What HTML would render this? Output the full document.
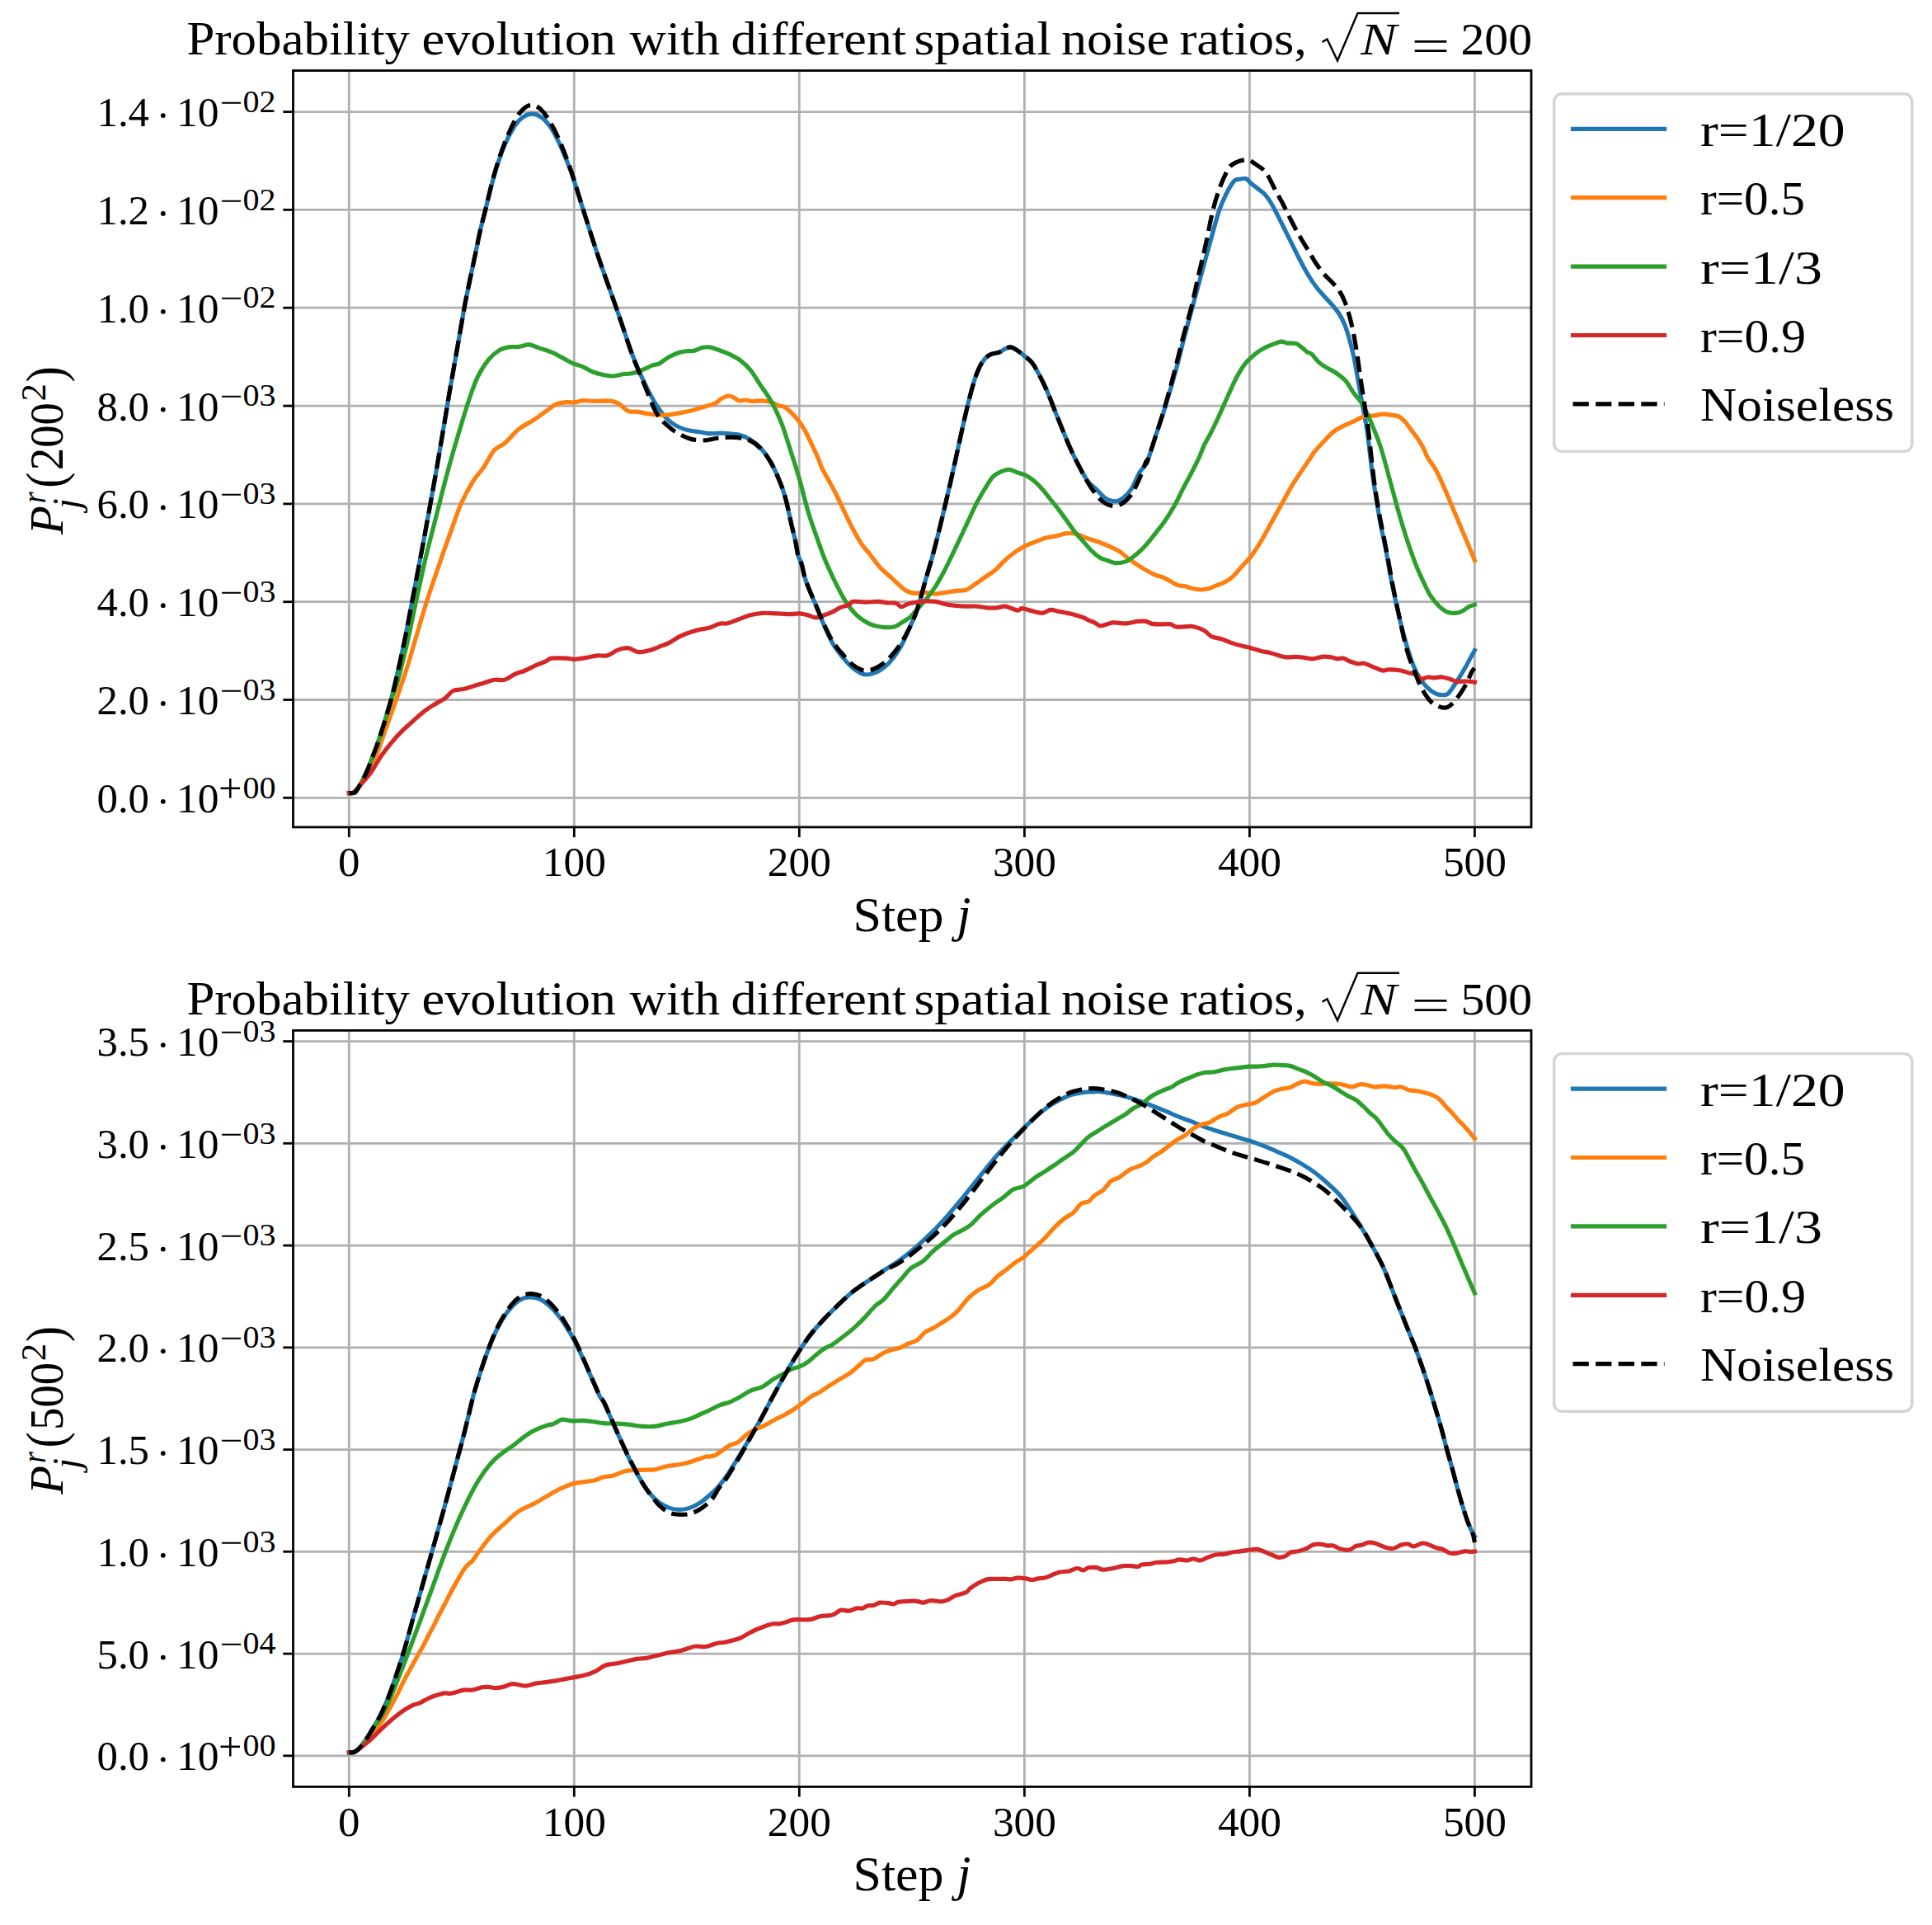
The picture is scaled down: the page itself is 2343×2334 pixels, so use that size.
<!DOCTYPE html>
<html><head><meta charset="utf-8"><title>Probability evolution with different spatial noise ratios</title>
<style>html,body{margin:0;padding:0;background:#fff}svg{display:block}text{font-family:"Liberation Serif", serif;fill:#000}</style></head><body>
<svg width="2343" height="2334" viewBox="0 0 2343 2334">
<rect width="2343" height="2334" fill="#fff"/>
<g stroke="#b0b0b0" stroke-width="2.8" fill="none">
<path d="M423.3 85.6V1002.9"/>
<path d="M696.3 85.6V1002.9"/>
<path d="M969.3 85.6V1002.9"/>
<path d="M1242.4 85.6V1002.9"/>
<path d="M1515.4 85.6V1002.9"/>
<path d="M1788.4 85.6V1002.9"/>
<path d="M355.5 967.3H1857.0"/>
<path d="M355.5 848.5H1857.0"/>
<path d="M355.5 729.7H1857.0"/>
<path d="M355.5 610.9H1857.0"/>
<path d="M355.5 492.1H1857.0"/>
<path d="M355.5 373.2H1857.0"/>
<path d="M355.5 254.4H1857.0"/>
<path d="M355.5 135.6H1857.0"/>
</g>
<g fill="none" stroke-width="5.2" stroke-linejoin="round" stroke-linecap="square">
<path stroke="#1f77b4" d="M423.4 961.6C424.5 961.5 428.1 962.3 430.1 961.0C432.1 959.7 433.4 956.9 435.3 953.8C437.2 950.7 439.7 946.1 441.6 942.3C443.5 938.5 445.1 935.0 446.8 930.9C448.5 926.8 450.2 921.9 451.9 917.4C453.6 912.9 455.4 908.8 457.1 903.9C458.8 899.0 460.6 893.7 462.3 888.3C464.0 882.9 465.5 878.4 467.5 871.7C469.5 865.0 472.2 856.0 474.3 848.3C476.4 840.5 478.1 833.5 480.0 825.2C481.9 816.9 484.0 807.7 486.0 798.5C488.0 789.3 489.7 781.5 492.0 770.0C494.3 758.5 497.5 741.0 499.7 729.7C501.9 718.4 503.2 711.5 505.0 702.0C506.8 692.5 508.7 682.8 510.5 673.0C512.3 663.2 514.1 654.0 516.0 643.5C517.9 633.0 520.1 621.1 522.1 610.0C524.1 598.9 526.1 587.8 528.0 577.0C529.9 566.2 531.7 555.8 533.5 545.0C535.3 534.2 537.2 523.3 539.0 512.5C540.8 501.7 542.6 490.8 544.4 480.0C546.2 469.2 548.0 459.5 550.0 448.0C552.0 436.5 554.3 423.5 556.5 411.0C558.7 398.5 561.2 383.4 563.1 373.0C565.0 362.6 566.4 356.6 568.0 348.5C569.6 340.4 571.4 332.2 573.0 324.5C574.6 316.8 576.2 309.4 577.7 302.0C579.2 294.6 580.5 288.0 582.3 280.0C584.1 272.0 585.9 265.4 588.8 254.0C591.6 242.7 595.6 225.2 599.5 212.2C603.3 199.1 607.8 186.0 611.9 176.0C616.1 166.0 620.7 158.0 624.4 152.3C628.2 146.6 630.9 144.2 634.4 141.8C637.9 139.5 641.9 138.0 645.6 138.1C649.4 138.2 653.1 139.6 656.8 142.3C660.6 145.1 664.3 149.2 668.1 154.8C671.8 160.4 675.1 166.9 679.3 176.0C683.4 185.1 688.3 196.7 693.0 209.7C697.6 222.7 701.6 236.6 707.2 254.0C712.8 271.5 720.0 294.6 726.6 314.4C733.3 334.2 740.7 353.9 747.3 373.0C754.0 392.1 760.9 413.9 766.5 429.1C772.2 444.3 776.5 453.5 781.5 464.0C786.5 474.5 791.5 484.2 796.5 491.9C801.5 499.6 806.0 505.4 811.4 510.1C816.8 514.8 822.6 517.8 828.9 520.1C835.1 522.4 843.6 522.9 848.8 523.8C854.0 524.8 855.6 525.4 860.0 525.7C864.4 525.9 869.1 525.0 875.0 525.2C880.8 525.4 889.1 525.6 894.9 526.9C900.7 528.2 905.3 530.4 909.9 533.1C914.4 535.8 918.2 538.5 922.3 543.1C926.5 547.7 931.1 554.1 934.8 560.6C938.5 567.0 941.9 574.7 944.8 581.8C947.7 588.8 949.8 594.0 952.3 603.0C954.8 611.9 957.7 626.4 959.7 635.4C961.8 644.3 963.4 650.3 964.7 656.6C966.1 662.8 966.5 668.2 967.7 672.8C969.0 677.4 970.6 678.8 972.2 684.0C973.8 689.2 974.1 695.2 977.2 703.9C980.3 712.7 986.7 727.2 990.7 736.8C994.6 746.4 997.6 754.2 1000.9 761.6C1004.2 769.1 1007.0 775.5 1010.6 781.5C1014.2 787.5 1018.5 792.9 1022.5 797.6C1026.5 802.4 1030.8 807.0 1034.4 810.1C1038.0 813.2 1041.2 814.9 1044.1 816.3C1047.0 817.6 1048.6 818.1 1051.6 818.0C1054.5 817.9 1058.2 817.1 1061.7 815.5C1065.3 814.0 1069.1 811.8 1072.7 808.8C1076.3 805.8 1079.8 802.2 1083.4 797.6C1086.9 793.1 1090.4 787.9 1093.8 781.5C1097.2 775.1 1100.9 766.2 1104.0 759.1C1107.1 752.0 1109.3 748.1 1112.3 738.9C1115.4 729.7 1119.0 715.6 1122.3 703.9C1125.6 692.3 1129.0 681.5 1132.3 669.0C1135.6 656.6 1138.9 642.9 1142.3 629.1C1145.6 615.4 1148.9 601.3 1152.2 586.8C1155.6 572.2 1158.9 556.8 1162.2 541.9C1165.5 526.9 1169.0 510.3 1172.2 497.0C1175.4 483.7 1178.8 470.8 1181.4 462.1C1184.1 453.4 1185.9 449.2 1188.1 444.6C1190.4 440.1 1192.6 437.1 1194.9 434.6C1197.1 432.2 1198.8 430.9 1201.6 429.7C1204.4 428.4 1208.7 428.3 1211.6 427.2C1214.5 426.0 1216.8 424.0 1219.1 422.9C1221.4 421.9 1223.2 420.9 1225.3 420.9C1227.4 421.0 1228.8 421.8 1231.5 423.4C1234.2 425.1 1238.2 428.2 1241.5 430.9C1244.8 433.6 1248.6 436.1 1251.5 439.6C1254.4 443.2 1256.1 446.7 1259.0 452.1C1261.9 457.5 1265.6 464.6 1268.9 472.1C1272.3 479.5 1275.6 488.7 1278.9 497.0C1282.2 505.3 1285.6 513.8 1288.9 521.9C1292.2 530.0 1295.5 538.3 1298.9 545.6C1302.2 552.9 1305.5 559.3 1308.8 565.6C1312.2 571.8 1315.3 578.3 1318.8 583.0C1322.3 587.7 1326.5 590.2 1330.0 593.6C1333.5 597.0 1336.2 601.2 1339.9 603.6C1343.7 606.0 1348.7 607.8 1352.4 607.8C1356.2 607.8 1359.1 606.2 1362.4 603.6C1365.7 601.0 1369.0 597.6 1372.4 592.4C1375.7 587.2 1379.2 577.8 1382.3 572.4C1385.5 567.0 1387.7 567.7 1391.1 560.0C1394.4 552.3 1398.5 537.7 1402.3 526.3C1406.0 515.0 1409.6 504.8 1413.5 491.9C1417.5 479.0 1422.2 462.8 1426.0 449.0C1429.8 435.2 1432.9 421.8 1436.2 409.1C1439.5 396.5 1442.4 385.9 1445.9 373.0C1449.4 360.1 1453.6 344.9 1457.1 331.8C1460.7 318.8 1463.9 307.0 1467.4 294.4C1470.9 281.9 1474.9 266.1 1478.1 256.4C1481.3 246.7 1483.4 242.5 1486.4 236.4C1489.5 230.3 1493.6 223.0 1496.4 219.8C1499.2 216.6 1500.5 217.8 1503.0 217.3C1505.5 216.8 1509.1 216.1 1511.3 216.8C1513.5 217.5 1514.1 219.6 1516.3 221.5C1518.5 223.4 1521.8 225.9 1524.6 228.1C1527.4 230.3 1530.4 232.2 1532.9 234.7C1535.4 237.2 1537.4 239.8 1539.6 243.1C1541.8 246.4 1543.4 249.4 1546.2 254.7C1549.0 259.9 1552.9 268.0 1556.2 274.6C1559.5 281.2 1562.9 288.0 1566.2 294.6C1569.5 301.2 1572.8 308.1 1576.1 314.5C1579.4 320.9 1582.8 327.2 1586.1 332.8C1589.4 338.4 1592.8 343.4 1596.1 347.8C1599.4 352.2 1602.8 355.7 1606.1 359.4C1609.4 363.1 1613.0 366.6 1616.0 370.2C1619.0 373.8 1621.8 377.0 1624.3 381.0C1626.8 385.0 1628.9 389.0 1631.0 394.3C1633.1 399.6 1635.0 406.2 1636.8 412.6C1638.6 419.0 1640.1 424.7 1641.8 432.6C1643.5 440.5 1645.0 450.1 1646.8 460.0C1648.6 469.9 1650.6 481.4 1652.5 492.0C1654.4 502.6 1656.3 510.5 1658.2 523.9C1660.1 537.3 1662.3 558.9 1664.1 572.4C1665.9 585.9 1667.4 594.4 1669.1 604.8C1670.8 615.2 1672.2 624.8 1674.1 634.8C1675.9 644.7 1678.2 653.9 1680.3 664.7C1682.4 675.5 1684.5 688.8 1686.5 699.6C1688.6 710.4 1690.7 719.9 1692.8 729.5C1694.9 739.1 1696.7 747.8 1699.0 756.9C1701.3 766.1 1704.0 776.1 1706.5 784.4C1709.0 792.7 1711.5 800.6 1714.0 806.8C1716.5 813.0 1718.5 817.2 1721.5 821.8C1724.4 826.3 1728.1 831.0 1731.4 834.2C1734.8 837.5 1738.5 839.8 1741.4 841.2C1744.3 842.6 1746.6 842.6 1748.9 842.7C1751.2 842.8 1753.0 843.1 1755.1 841.7C1757.2 840.3 1759.1 837.4 1761.4 834.2C1763.6 831.1 1766.3 827.0 1768.8 823.0C1771.3 819.1 1773.8 814.9 1776.3 810.5C1778.8 806.2 1781.8 800.5 1783.8 796.8C1785.8 793.2 1787.6 789.9 1788.4 788.5"/>
<path stroke="#ff7f0e" d="M423.4 961.6C424.5 961.5 428.1 962.2 430.1 961.0C432.1 959.8 433.4 957.1 435.3 954.2C437.2 951.3 439.6 947.2 441.6 943.5C443.6 939.8 445.6 935.7 447.5 932.0C449.4 928.3 451.2 925.0 453.0 921.5C454.8 918.0 455.7 917.4 458.2 911.0C460.7 904.6 464.4 893.6 468.1 883.1C471.8 872.6 476.3 860.5 480.5 848.3C484.7 836.1 489.4 822.9 493.5 810.0C497.6 797.1 501.0 784.4 505.0 771.0C509.0 757.6 513.6 741.6 517.4 729.7C521.1 717.8 524.1 709.5 527.5 699.5C530.9 689.5 534.2 679.7 537.7 669.7C541.2 659.7 544.9 649.5 548.5 639.5C552.1 629.5 555.3 619.3 559.5 610.0C563.7 600.7 569.2 590.7 573.6 583.6C578.0 576.5 581.7 573.7 586.0 567.4C590.3 561.1 595.2 550.8 599.5 545.8C603.8 540.8 607.0 541.8 611.9 537.6C616.9 533.3 623.6 524.8 629.4 520.1C635.2 515.4 641.5 512.9 646.9 509.4C652.3 505.8 657.2 502.1 661.8 498.9C666.4 495.7 670.1 492.1 674.3 490.2C678.4 488.3 683.0 488.1 686.8 487.7C690.5 487.3 693.4 488.3 696.7 487.9C700.1 487.6 702.5 485.9 706.7 485.7C710.9 485.4 717.1 486.4 721.7 486.4C726.2 486.5 730.4 485.9 734.1 485.9C737.9 486.0 741.2 486.2 744.1 486.9C747.0 487.6 748.7 488.3 751.6 490.2C754.5 492.1 757.8 496.9 761.6 498.4C765.3 499.9 769.9 498.8 774.0 499.4C778.2 500.0 782.3 501.3 786.5 501.9C790.6 502.5 794.8 503.0 799.0 503.1C803.1 503.3 807.3 503.3 811.4 502.9C815.6 502.5 819.3 501.8 823.9 500.9C828.5 500.0 834.3 498.8 838.9 497.7C843.4 496.5 847.8 494.9 851.3 493.9C854.8 492.9 857.3 492.3 860.0 491.5C862.7 490.7 865.0 490.4 867.5 489.0C870.0 487.6 872.3 484.8 875.0 483.3C877.7 481.8 881.2 480.2 883.7 480.0C886.2 479.8 887.8 481.1 889.9 482.0C892.0 483.0 893.7 485.3 896.2 485.8C898.6 486.3 902.2 484.9 904.9 485.0C907.6 485.1 909.0 486.4 912.4 486.5C915.7 486.6 921.1 485.6 924.8 485.8C928.6 485.9 931.5 486.5 934.8 487.5C938.1 488.6 941.9 490.9 944.8 492.0C947.7 493.1 948.9 491.7 952.3 494.0C955.6 496.3 961.0 501.5 964.7 505.7C968.5 510.0 971.4 513.8 974.7 519.4C978.0 525.0 981.8 533.4 984.7 539.4C987.6 545.4 990.1 550.8 992.2 555.6C994.2 560.4 995.1 563.7 997.1 568.1C999.2 572.4 1001.7 576.4 1004.6 581.8C1007.5 587.2 1011.3 593.8 1014.6 600.5C1017.9 607.1 1021.2 614.8 1024.6 621.7C1027.9 628.5 1031.2 635.4 1034.5 641.6C1037.9 647.8 1041.2 654.1 1044.5 659.1C1047.8 664.1 1050.8 666.8 1054.5 671.5C1058.2 676.3 1062.8 683.2 1067.0 687.7C1071.1 692.3 1075.7 695.5 1079.4 699.0C1083.2 702.4 1086.1 705.5 1089.4 708.4C1092.7 711.3 1096.1 714.6 1099.4 716.4C1102.7 718.2 1105.6 719.1 1109.4 719.4C1113.1 719.7 1117.7 718.3 1121.8 718.4C1126.0 718.5 1130.1 720.2 1134.3 720.2C1138.4 720.2 1142.6 719.0 1146.8 718.4C1150.9 717.8 1155.1 717.0 1159.2 716.4C1163.4 715.9 1167.9 716.4 1171.7 715.2C1175.4 713.9 1177.9 711.4 1181.7 708.9C1185.4 706.4 1190.0 703.1 1194.1 700.2C1198.3 697.3 1202.4 695.0 1206.6 691.5C1210.8 687.9 1214.9 682.8 1219.1 679.0C1223.2 675.3 1227.4 671.9 1231.5 669.0C1235.7 666.1 1239.8 663.6 1244.0 661.6C1248.2 659.5 1252.3 658.2 1256.5 656.6C1260.6 655.0 1264.8 653.2 1268.9 652.1C1273.1 651.0 1277.2 650.8 1281.4 649.8C1285.6 648.9 1289.7 646.9 1293.9 646.6C1298.0 646.3 1302.2 646.8 1306.3 647.8C1310.5 648.9 1314.5 651.3 1318.8 652.8C1323.2 654.4 1328.1 655.6 1332.5 657.2C1336.8 658.8 1340.8 660.3 1344.9 662.2C1349.1 664.1 1353.2 665.7 1357.4 668.4C1361.6 671.1 1365.3 675.1 1369.9 678.4C1374.4 681.7 1379.8 685.3 1384.8 688.4C1389.8 691.4 1395.2 694.5 1399.8 696.6C1404.4 698.7 1407.7 698.8 1412.3 700.8C1416.8 702.9 1423.1 707.4 1427.2 709.1C1431.4 710.7 1433.9 710.0 1437.2 710.8C1440.5 711.6 1443.8 713.1 1447.2 713.8C1450.5 714.5 1453.8 715.1 1457.1 715.0C1460.5 715.0 1464.2 714.1 1467.1 713.3C1470.0 712.5 1471.7 711.2 1474.6 710.1C1477.5 708.9 1481.2 708.1 1484.6 706.3C1487.9 704.6 1491.2 702.6 1494.5 699.6C1497.9 696.6 1500.8 692.5 1504.5 688.4C1508.3 684.2 1512.8 680.1 1517.0 674.6C1521.1 669.2 1525.3 662.8 1529.5 655.9C1533.6 649.1 1537.8 641.0 1541.9 633.5C1546.1 626.0 1550.2 618.5 1554.4 611.1C1558.5 603.6 1562.7 595.5 1566.9 588.6C1571.0 581.8 1575.6 575.5 1579.3 569.9C1583.1 564.3 1586.8 558.7 1589.3 555.0C1591.8 551.2 1591.4 551.1 1594.3 547.5C1597.2 544.0 1603.0 537.8 1606.8 533.8C1610.5 529.9 1613.4 526.5 1616.7 523.8C1620.1 521.1 1622.5 519.8 1626.7 517.6C1630.9 515.4 1637.1 513.0 1641.7 510.9C1646.2 508.8 1650.0 506.3 1654.1 505.1C1658.3 504.0 1662.9 504.4 1666.6 503.9C1670.3 503.4 1673.2 502.3 1676.6 502.2C1679.9 502.0 1683.2 502.6 1686.5 503.1C1689.9 503.6 1693.6 503.8 1696.5 505.1C1699.4 506.5 1701.5 508.7 1704.0 511.4C1706.5 514.1 1709.0 518.0 1711.5 521.4C1714.0 524.7 1716.5 527.6 1719.0 531.3C1721.5 535.1 1724.4 539.9 1726.4 543.8C1728.5 547.7 1728.9 550.6 1731.4 555.0C1733.9 559.3 1738.1 563.9 1741.4 569.9C1744.7 575.9 1748.1 583.6 1751.4 591.1C1754.7 598.6 1758.0 606.9 1761.4 614.8C1764.7 622.7 1768.0 630.6 1771.3 638.5C1774.6 646.4 1778.5 655.4 1781.3 662.2C1784.1 669.0 1787.2 676.6 1788.4 679.4"/>
<path stroke="#2ca02c" d="M423.4 961.6C424.5 961.5 428.1 962.3 430.1 961.0C432.1 959.7 433.4 956.9 435.3 953.8C437.2 950.7 439.7 946.1 441.6 942.3C443.5 938.5 445.1 935.0 446.8 930.9C448.5 926.8 450.2 921.9 451.9 917.4C453.6 912.9 455.4 908.8 457.1 903.9C458.8 899.0 460.6 893.7 462.3 888.3C464.0 882.9 465.4 878.4 467.5 871.7C469.6 865.0 472.1 856.0 474.6 848.3C477.1 840.5 480.1 833.5 482.5 825.2C484.9 816.9 487.1 807.7 489.3 798.5C491.6 789.3 493.5 781.5 496.0 770.0C498.5 758.5 502.0 741.0 504.4 729.7C506.8 718.4 508.4 711.5 510.5 702.0C512.6 692.5 514.7 682.8 517.0 673.0C519.3 663.2 521.8 654.0 524.5 643.5C527.2 633.0 530.2 621.1 533.0 610.0C535.8 598.9 538.5 588.2 541.5 577.0C544.5 565.8 547.8 554.0 551.0 543.0C554.2 532.0 557.3 521.5 560.5 511.0C563.7 500.5 567.2 489.1 570.4 480.0C573.6 470.9 575.9 463.8 579.5 456.5C583.1 449.3 587.8 441.8 592.0 436.6C596.2 431.4 600.3 428.0 604.5 425.4C608.6 422.7 612.8 421.7 616.9 420.9C621.1 420.0 625.2 420.9 629.4 420.4C633.6 419.9 637.7 417.6 641.9 417.9C646.0 418.2 649.8 420.6 654.3 422.1C658.9 423.6 664.7 425.2 669.3 427.1C673.9 429.0 677.6 431.4 681.8 433.6C685.9 435.8 690.1 438.5 694.2 440.3C698.4 442.1 702.5 442.8 706.7 444.6C710.9 446.3 715.0 449.4 719.2 451.0C723.3 452.7 727.5 453.7 731.6 454.5C735.8 455.4 739.9 456.2 744.1 456.0C748.3 455.9 752.8 454.1 756.6 453.5C760.3 453.0 762.8 453.6 766.5 452.8C770.3 451.9 774.9 450.2 779.0 448.5C783.2 446.9 788.2 444.1 791.5 442.8C794.8 441.6 795.6 442.7 799.0 441.1C802.3 439.4 807.3 435.1 811.4 432.8C815.6 430.5 820.2 428.6 823.9 427.3C827.6 426.1 831.0 425.9 833.9 425.6C836.8 425.3 838.4 426.0 841.4 425.4C844.3 424.7 848.2 422.3 851.3 421.6C854.4 420.9 856.5 420.4 860.0 420.9C863.5 421.4 868.3 423.2 872.5 424.7C876.6 426.1 880.8 427.7 884.9 429.7C889.1 431.7 893.2 433.5 897.4 436.6C901.6 439.8 905.7 443.3 909.9 448.4C914.0 453.4 918.2 460.8 922.3 467.1C926.5 473.3 930.6 478.3 934.8 485.8C939.0 493.2 943.1 501.4 947.3 511.9C951.4 522.5 956.0 537.7 959.7 549.4C963.5 561.0 966.4 570.1 969.7 581.8C973.0 593.4 976.4 607.9 979.7 619.2C983.0 630.4 986.3 639.5 989.7 649.1C993.0 658.6 996.3 668.2 999.6 676.5C1003.0 684.8 1006.3 691.9 1009.6 699.0C1012.9 706.0 1016.3 712.9 1019.6 718.9C1022.9 724.9 1026.2 730.5 1029.6 735.1C1032.9 739.7 1036.2 743.2 1039.5 746.3C1042.9 749.5 1046.2 751.8 1049.5 753.8C1052.8 755.8 1055.7 757.2 1059.5 758.3C1063.2 759.4 1067.8 760.3 1071.9 760.6C1076.1 760.8 1080.7 761.1 1084.4 760.1C1088.2 759.0 1091.1 756.4 1094.4 754.3C1097.7 752.2 1101.0 750.6 1104.4 747.6C1107.7 744.6 1111.0 740.1 1114.3 736.4C1117.7 732.6 1121.0 729.3 1124.3 725.1C1127.6 721.0 1131.0 716.6 1134.3 711.4C1137.6 706.2 1140.9 700.2 1144.3 694.0C1147.6 687.7 1150.9 680.9 1154.2 674.0C1157.6 667.2 1160.9 659.9 1164.2 652.8C1167.5 645.8 1170.9 638.7 1174.2 631.6C1177.5 624.6 1180.8 616.9 1184.2 610.4C1187.5 604.0 1190.8 598.4 1194.1 593.0C1197.5 587.6 1200.8 581.6 1204.1 578.0C1207.4 574.5 1210.8 573.2 1214.1 571.8C1217.4 570.3 1220.7 569.1 1224.1 569.3C1227.4 569.5 1230.7 571.9 1234.0 573.0C1237.4 574.2 1240.7 574.6 1244.0 576.3C1247.3 577.9 1250.6 580.2 1254.0 583.0C1257.3 585.8 1260.6 589.2 1263.9 593.0C1267.3 596.7 1270.6 601.3 1273.9 605.5C1277.2 609.6 1280.6 613.6 1283.9 617.9C1287.2 622.3 1290.5 627.1 1293.9 631.6C1297.2 636.2 1300.5 641.2 1303.8 645.4C1307.2 649.5 1310.5 652.8 1313.8 656.6C1317.1 660.3 1320.5 664.6 1323.8 667.8C1327.1 671.0 1331.1 674.3 1333.8 676.0C1336.5 677.8 1336.8 677.3 1339.9 678.4C1343.1 679.5 1348.3 682.2 1352.4 682.6C1356.6 683.0 1361.1 682.2 1364.9 680.9C1368.6 679.6 1371.1 677.6 1374.9 674.6C1378.6 671.7 1383.2 667.8 1387.3 663.4C1391.5 659.1 1395.6 653.7 1399.8 648.5C1403.9 643.3 1408.1 638.3 1412.3 632.3C1416.4 626.2 1421.0 619.0 1424.7 612.3C1428.5 605.7 1431.4 598.8 1434.7 592.4C1438.0 585.9 1441.4 580.1 1444.7 573.7C1448.0 567.2 1452.2 559.1 1454.6 553.7C1457.1 548.3 1457.1 546.5 1459.6 541.3C1462.1 536.1 1466.3 529.2 1469.6 522.6C1472.9 515.9 1476.3 508.7 1479.6 501.4C1482.9 494.1 1486.2 486.2 1489.6 479.0C1492.9 471.7 1496.2 464.0 1499.5 457.8C1502.9 451.5 1506.2 445.9 1509.5 441.6C1512.8 437.2 1516.2 434.5 1519.5 431.6C1522.8 428.7 1526.1 426.2 1529.5 424.1C1532.8 422.0 1536.1 420.6 1539.4 419.1C1542.8 417.7 1546.9 416.2 1549.4 415.4C1551.9 414.5 1552.3 414.0 1554.4 414.1C1556.5 414.3 1559.0 415.7 1561.9 416.1C1564.8 416.5 1568.9 415.7 1571.8 416.6C1574.8 417.5 1577.0 419.9 1579.3 421.6C1581.6 423.4 1583.7 425.8 1585.6 427.1C1587.4 428.3 1588.3 427.1 1590.5 429.1C1592.8 431.1 1596.2 436.2 1599.3 439.1C1602.4 441.9 1605.9 444.0 1609.2 446.0C1612.6 448.1 1615.5 449.0 1619.2 451.5C1623.0 454.1 1627.9 457.4 1631.7 461.5C1635.4 465.7 1638.3 471.9 1641.7 476.5C1645.0 481.0 1648.7 484.4 1651.6 488.9C1654.5 493.5 1656.6 498.5 1659.1 503.9C1661.6 509.3 1664.1 515.1 1666.6 521.4C1669.1 527.6 1671.6 533.6 1674.1 541.3C1676.6 549.0 1679.1 558.5 1681.6 567.4C1684.1 576.4 1686.5 585.7 1689.0 594.9C1691.5 604.0 1694.0 613.6 1696.5 622.3C1699.0 631.0 1701.5 639.3 1704.0 647.2C1706.5 655.1 1709.0 662.6 1711.5 669.7C1714.0 676.7 1716.5 683.6 1719.0 689.6C1721.5 695.6 1723.9 700.6 1726.4 705.8C1728.9 711.0 1731.4 716.6 1733.9 720.8C1736.4 724.9 1738.9 727.8 1741.4 730.8C1743.9 733.7 1746.4 736.3 1748.9 738.2C1751.4 740.2 1753.5 741.6 1756.4 742.5C1759.3 743.3 1763.4 743.5 1766.3 743.2C1769.2 742.9 1771.3 742.0 1773.8 740.7C1776.3 739.5 1778.9 737.0 1781.3 735.7C1783.7 734.5 1787.2 733.5 1788.4 733.1"/>
<path stroke="#d62728" d="M423.4 961.4C424.3 961.3 426.3 962.6 428.7 960.9C431.0 959.2 433.9 955.5 437.4 951.4C440.9 947.4 445.7 942.3 449.9 936.5C454.0 930.6 458.2 922.5 462.3 916.5C466.5 910.5 470.6 905.3 474.8 900.3C479.0 895.3 483.1 890.8 487.3 886.6C491.4 882.4 495.6 879.1 499.7 875.4C503.9 871.6 508.1 867.5 512.2 864.2C516.4 860.8 520.1 858.3 524.7 855.4C529.2 852.5 535.5 849.7 539.6 846.7C543.8 843.7 545.9 839.3 549.6 837.5C553.4 835.6 557.9 836.4 562.1 835.5C566.2 834.5 570.4 833.0 574.5 831.7C578.7 830.5 582.9 829.2 587.0 828.0C591.2 826.8 595.3 824.9 599.5 824.3C603.6 823.6 607.8 825.4 611.9 824.3C616.1 823.1 620.3 819.1 624.4 817.3C628.6 815.4 632.7 814.8 636.9 813.0C641.0 811.3 645.2 808.7 649.4 806.8C653.5 804.9 658.5 803.3 661.8 801.8C665.1 800.4 665.1 798.7 669.3 798.1C673.5 797.5 682.2 797.9 686.8 798.1C691.3 798.3 692.6 799.4 696.7 799.3C700.9 799.2 707.1 798.1 711.7 797.3C716.3 796.6 720.0 795.3 724.2 794.8C728.3 794.4 732.5 796.0 736.6 794.8C740.8 793.7 744.9 789.6 749.1 788.1C753.2 786.6 757.4 785.2 761.6 785.6C765.7 786.0 769.5 790.2 774.0 790.6C778.6 791.0 784.8 789.1 789.0 788.1C793.1 787.1 795.2 785.8 799.0 784.4C802.7 782.9 807.3 781.5 811.4 779.4C815.6 777.3 819.7 774.0 823.9 771.9C828.1 769.8 832.2 768.4 836.4 766.9C840.5 765.5 844.9 764.1 848.8 763.2C852.8 762.2 856.1 762.4 860.0 761.3C863.9 760.2 868.7 757.2 872.5 756.3C876.2 755.4 878.7 756.6 882.4 755.8C886.2 755.0 890.3 753.0 894.9 751.3C899.5 749.7 904.9 747.2 909.9 745.8C914.9 744.5 919.4 743.7 924.8 743.3C930.2 743.0 936.5 743.6 942.3 743.8C948.1 744.1 955.2 744.6 959.7 744.6C964.3 744.6 966.4 743.6 969.7 743.8C973.0 744.1 976.4 745.0 979.7 745.8C983.0 746.7 986.3 748.8 989.7 748.8C993.0 748.8 996.3 747.0 999.6 745.8C1003.0 744.7 1006.3 743.4 1009.6 741.8C1012.9 740.3 1016.3 737.8 1019.6 736.4C1022.9 735.0 1027.1 734.5 1029.6 733.4C1032.1 732.2 1031.2 729.9 1034.5 729.4C1037.9 728.8 1044.5 730.1 1049.5 730.1C1054.5 730.1 1059.9 729.3 1064.5 729.4C1069.0 729.5 1073.2 730.5 1076.9 730.9C1080.7 731.2 1084.2 730.6 1086.9 731.4C1089.6 732.2 1090.6 735.5 1093.1 735.6C1095.6 735.7 1098.8 732.8 1101.9 731.9C1105.0 731.0 1108.5 730.6 1111.8 730.1C1115.2 729.6 1118.1 729.0 1121.8 728.9C1125.6 728.8 1130.1 728.8 1134.3 729.4C1138.4 730.0 1142.6 731.8 1146.8 732.6C1150.9 733.5 1155.1 734.0 1159.2 734.4C1163.4 734.8 1167.5 735.0 1171.7 735.1C1175.8 735.2 1180.0 734.8 1184.2 735.1C1188.3 735.4 1192.5 736.6 1196.6 736.9C1200.8 737.2 1205.4 737.2 1209.1 736.9C1212.8 736.6 1214.9 734.6 1219.1 735.1C1223.2 735.7 1230.7 739.7 1234.0 740.1C1237.4 740.5 1236.5 737.6 1239.0 737.6C1241.5 737.6 1244.8 739.1 1249.0 740.1C1253.1 741.1 1259.8 743.5 1263.9 743.3C1268.1 743.2 1270.6 739.7 1273.9 739.4C1277.2 739.0 1279.7 740.5 1283.9 741.4C1288.1 742.2 1293.9 743.1 1298.9 744.3C1303.8 745.6 1310.3 747.6 1313.8 748.8C1317.3 750.1 1317.7 750.9 1320.0 751.9C1322.3 753.0 1325.0 753.8 1327.5 754.9C1330.0 756.1 1331.2 758.9 1335.0 758.9C1338.7 758.9 1344.9 755.4 1349.9 754.9C1354.9 754.4 1359.9 756.2 1364.9 755.9C1369.9 755.7 1375.7 753.9 1379.8 753.4C1384.0 753.0 1386.9 752.9 1389.8 753.4C1392.7 753.9 1394.4 755.9 1397.3 756.4C1400.2 757.0 1403.5 756.9 1407.3 756.9C1411.0 757.0 1416.4 756.4 1419.7 756.9C1423.1 757.5 1423.1 759.8 1427.2 760.2C1431.4 760.6 1440.1 759.1 1444.7 759.4C1449.2 759.7 1451.7 760.9 1454.6 761.9C1457.6 763.0 1459.6 764.0 1462.1 765.7C1464.6 767.3 1466.3 770.4 1469.6 771.9C1472.9 773.4 1477.9 773.6 1482.1 774.9C1486.2 776.2 1490.0 778.4 1494.5 779.9C1499.1 781.4 1505.4 782.8 1509.5 783.9C1513.7 784.9 1516.2 785.4 1519.5 786.4C1522.8 787.3 1526.1 788.5 1529.5 789.4C1532.8 790.2 1536.1 790.5 1539.4 791.3C1542.8 792.2 1546.1 793.4 1549.4 794.3C1552.7 795.3 1555.6 796.5 1559.4 796.8C1563.1 797.2 1568.1 796.2 1571.8 796.3C1575.6 796.4 1578.5 796.9 1581.8 797.3C1585.1 797.7 1588.1 799.0 1591.8 798.8C1595.5 798.6 1600.5 796.4 1604.3 796.1C1608.0 795.8 1611.3 796.4 1614.2 796.8C1617.1 797.3 1619.2 798.6 1621.7 798.8C1624.2 799.0 1626.7 797.6 1629.2 798.1C1631.7 798.6 1633.8 800.7 1636.7 801.8C1639.6 802.9 1643.7 804.4 1646.6 804.8C1649.6 805.2 1651.2 803.8 1654.1 804.3C1657.0 804.9 1660.4 806.6 1664.1 808.1C1667.8 809.5 1673.2 812.4 1676.6 813.0C1679.9 813.7 1680.3 811.8 1684.1 811.8C1687.8 811.8 1694.9 812.3 1699.0 813.0C1703.2 813.7 1706.1 815.3 1709.0 816.0C1711.9 816.8 1714.0 816.4 1716.5 817.5C1719.0 818.7 1721.5 822.4 1723.9 823.0C1726.4 823.6 1728.9 821.2 1731.4 821.0C1733.9 820.8 1736.0 821.8 1738.9 821.8C1741.8 821.8 1745.6 820.7 1748.9 821.0C1752.2 821.3 1755.9 822.6 1758.9 823.5C1761.8 824.4 1763.0 825.8 1766.3 826.3C1769.7 826.7 1775.1 825.9 1778.8 826.0C1782.5 826.1 1786.8 826.9 1788.4 827.1"/>
<path stroke="#000" stroke-linecap="butt" stroke-dasharray="19.3 8.3" d="M423.4 961.6C424.5 961.5 428.1 962.3 430.1 961.0C432.1 959.7 433.4 956.9 435.3 953.8C437.2 950.7 439.7 946.1 441.6 942.3C443.5 938.5 445.1 935.0 446.8 930.9C448.5 926.8 450.2 921.9 451.9 917.4C453.6 912.9 455.4 908.8 457.1 903.9C458.8 899.0 460.6 893.7 462.3 888.3C464.0 882.9 465.5 878.4 467.5 871.7C469.5 865.0 472.2 856.0 474.3 848.3C476.4 840.5 478.1 833.5 480.0 825.2C481.9 816.9 484.0 807.7 486.0 798.5C488.0 789.3 489.7 781.5 492.0 770.0C494.3 758.5 497.5 741.0 499.7 729.7C501.9 718.4 503.2 711.5 505.0 702.0C506.8 692.5 508.7 682.8 510.5 673.0C512.3 663.2 514.1 654.0 516.0 643.5C517.9 633.0 520.1 621.1 522.1 610.0C524.1 598.9 526.1 587.8 528.0 577.0C529.9 566.2 531.7 555.8 533.5 545.0C535.3 534.2 537.2 523.3 539.0 512.5C540.8 501.7 542.6 490.8 544.4 480.0C546.2 469.2 548.0 459.5 550.0 448.0C552.0 436.5 554.3 423.5 556.5 411.0C558.7 398.5 561.2 383.4 563.1 373.0C565.0 362.6 566.4 356.6 568.0 348.5C569.6 340.4 571.4 332.2 573.0 324.5C574.6 316.8 576.2 309.4 577.7 302.0C579.2 294.6 580.5 288.0 582.3 280.0C584.1 272.0 585.9 265.6 588.8 254.0C591.6 242.5 595.6 224.3 599.5 210.9C603.3 197.5 607.8 184.3 611.9 173.5C616.1 162.7 620.7 152.9 624.4 146.1C628.2 139.2 631.1 135.5 634.4 132.4C637.7 129.2 640.8 127.4 644.4 127.4C647.9 127.4 651.8 129.0 655.6 132.4C659.3 135.7 662.9 140.7 666.8 147.3C670.8 154.0 674.9 162.1 679.3 172.3C683.6 182.4 688.3 194.8 693.0 208.4C697.6 222.0 701.6 236.4 707.2 254.0C712.8 271.7 720.0 294.6 726.6 314.4C733.3 334.2 740.7 353.8 747.3 373.0C754.0 392.2 760.9 414.0 766.5 429.6C772.2 445.2 776.5 454.5 781.5 466.5C786.5 478.5 791.5 492.9 796.5 501.4C801.5 509.9 806.9 513.5 811.4 517.6C816.0 521.8 819.3 523.8 823.9 526.3C828.5 528.8 833.5 531.3 838.9 532.6C844.3 533.8 852.8 533.7 856.3 533.8C859.8 533.9 856.9 533.7 860.0 533.1C863.1 532.6 869.1 531.1 875.0 530.6C880.8 530.2 889.1 530.0 894.9 530.6C900.7 531.3 905.3 532.2 909.9 534.4C914.4 536.6 918.2 539.3 922.3 543.6C926.5 548.0 931.1 554.2 934.8 560.6C938.5 566.9 941.9 574.7 944.8 581.8C947.7 588.8 949.8 594.0 952.3 603.0C954.8 611.9 957.7 626.4 959.7 635.4C961.8 644.3 963.4 650.3 964.7 656.6C966.1 662.8 966.5 668.2 967.7 672.8C969.0 677.4 970.6 678.8 972.2 684.0C973.8 689.2 974.1 695.2 977.2 703.9C980.3 712.7 986.7 727.4 990.7 736.8C994.6 746.2 997.6 753.3 1000.9 760.4C1004.2 767.4 1007.0 773.4 1010.6 779.0C1014.2 784.6 1018.5 789.4 1022.5 793.9C1026.5 798.5 1030.8 803.4 1034.4 806.3C1038.0 809.3 1041.4 810.7 1044.1 811.8C1046.7 812.9 1047.8 812.9 1050.3 812.8C1052.8 812.7 1055.9 812.6 1059.3 811.3C1062.6 810.0 1066.6 807.8 1070.2 805.1C1073.8 802.4 1077.1 799.3 1080.9 795.2C1084.6 791.0 1088.7 786.3 1092.5 780.2C1096.4 774.2 1100.7 766.0 1104.0 759.1C1107.3 752.2 1109.3 748.1 1112.3 738.9C1115.4 729.7 1119.0 715.6 1122.3 703.9C1125.6 692.3 1129.0 681.5 1132.3 669.0C1135.6 656.6 1138.9 642.9 1142.3 629.1C1145.6 615.4 1148.9 601.3 1152.2 586.8C1155.6 572.2 1158.9 556.8 1162.2 541.9C1165.5 526.9 1169.0 510.3 1172.2 497.0C1175.4 483.7 1178.8 470.8 1181.4 462.1C1184.1 453.4 1185.9 449.2 1188.1 444.6C1190.4 440.1 1192.6 437.1 1194.9 434.6C1197.1 432.2 1198.8 430.9 1201.6 429.7C1204.4 428.4 1208.7 428.3 1211.6 427.2C1214.5 426.0 1216.8 424.0 1219.1 422.9C1221.4 421.9 1223.2 420.9 1225.3 420.9C1227.4 421.0 1228.8 421.8 1231.5 423.4C1234.2 425.1 1238.2 428.2 1241.5 430.9C1244.8 433.6 1248.6 436.1 1251.5 439.6C1254.4 443.2 1256.1 446.7 1259.0 452.1C1261.9 457.5 1265.6 464.6 1268.9 472.1C1272.3 479.5 1275.6 488.7 1278.9 497.0C1282.2 505.3 1285.6 513.8 1288.9 521.9C1292.2 530.0 1295.5 538.3 1298.9 545.6C1302.2 552.9 1305.5 559.1 1308.8 565.6C1312.2 572.0 1314.9 577.9 1318.8 584.3C1322.7 590.6 1328.1 598.9 1332.5 603.6C1336.8 608.3 1340.8 610.9 1344.9 612.3C1349.1 613.8 1353.2 614.0 1357.4 612.3C1361.6 610.6 1366.1 606.9 1369.9 602.3C1373.6 597.8 1376.5 591.9 1379.8 584.9C1383.2 577.8 1387.9 564.1 1389.8 559.9C1391.1 555.8 1389.8 565.6 1391.1 560.0C1393.1 554.4 1398.6 537.7 1402.3 526.3C1405.9 515.0 1409.3 504.8 1413.0 491.9C1416.7 479.0 1421.1 462.8 1424.7 449.0C1428.3 435.2 1431.4 421.8 1434.7 409.1C1438.0 396.5 1441.4 386.1 1444.7 373.0C1447.9 359.9 1451.2 343.3 1454.2 330.6C1457.1 317.9 1459.4 309.3 1462.1 296.9C1464.9 284.6 1467.7 268.2 1470.6 256.4C1473.5 244.6 1476.5 235.0 1479.7 226.4C1482.9 217.8 1486.7 209.7 1489.7 204.8C1492.8 200.0 1494.1 199.2 1498.0 197.3C1501.9 195.4 1509.1 193.3 1513.0 193.5C1516.9 193.7 1518.0 196.0 1521.3 198.2C1524.6 200.4 1529.9 203.4 1532.9 206.5C1536.0 209.6 1537.4 212.6 1539.6 216.5C1541.8 220.4 1543.4 224.6 1546.2 229.8C1549.0 235.1 1552.9 241.6 1556.2 248.0C1559.5 254.4 1562.9 261.6 1566.2 268.0C1569.5 274.4 1572.8 280.5 1576.1 286.3C1579.4 292.1 1582.8 297.4 1586.1 302.9C1589.4 308.4 1592.8 314.5 1596.1 319.5C1599.4 324.5 1602.8 328.9 1606.1 332.8C1609.4 336.7 1613.0 339.5 1616.0 342.8C1619.0 346.1 1621.8 348.9 1624.3 352.8C1626.8 356.7 1628.9 360.9 1631.0 366.1C1633.1 371.4 1635.0 377.7 1636.8 384.3C1638.6 390.9 1640.3 398.2 1641.8 406.0C1643.3 413.8 1644.6 421.9 1646.0 430.9C1647.4 439.9 1648.6 449.8 1650.1 460.0C1651.6 470.2 1653.4 481.4 1655.0 492.0C1656.6 502.6 1657.8 508.8 1659.7 523.9C1661.6 539.0 1664.2 566.0 1666.3 582.4C1668.5 598.8 1670.2 608.6 1672.6 622.3C1675.0 636.0 1678.1 650.1 1680.8 664.7C1683.6 679.2 1686.3 695.4 1689.0 709.6C1691.8 723.7 1694.4 736.2 1697.3 749.5C1700.2 762.8 1703.3 778.1 1706.5 789.4C1709.7 800.6 1713.6 809.3 1716.5 816.8C1719.4 824.3 1721.0 828.8 1723.9 834.2C1726.9 839.6 1730.6 845.5 1733.9 849.2C1737.2 852.9 1740.6 854.7 1743.9 856.2C1747.2 857.6 1750.8 858.7 1753.9 857.9C1757.0 857.2 1759.7 854.6 1762.6 851.7C1765.5 848.8 1768.6 844.4 1771.3 840.5C1774.0 836.5 1776.5 832.4 1778.8 828.0C1781.1 823.6 1783.4 817.3 1785.0 814.3C1786.6 811.3 1787.8 810.8 1788.4 810.1"/>
</g>
<g stroke="#000" stroke-width="2.8" fill="none">
<path d="M423.3 1002.9v12.2"/>
<path d="M696.3 1002.9v12.2"/>
<path d="M969.3 1002.9v12.2"/>
<path d="M1242.4 1002.9v12.2"/>
<path d="M1515.4 1002.9v12.2"/>
<path d="M1788.4 1002.9v12.2"/>
<path d="M355.5 967.3h-12.2"/>
<path d="M355.5 848.5h-12.2"/>
<path d="M355.5 729.7h-12.2"/>
<path d="M355.5 610.9h-12.2"/>
<path d="M355.5 492.1h-12.2"/>
<path d="M355.5 373.2h-12.2"/>
<path d="M355.5 254.4h-12.2"/>
<path d="M355.5 135.6h-12.2"/>
<rect x="355.5" y="85.6" width="1501.5" height="917.3" stroke-linejoin="miter"/>
</g>
<text x="423.3" y="1062.1" font-size="51.0" textLength="26.5" lengthAdjust="spacingAndGlyphs" text-anchor="middle">0</text>
<text x="696.3" y="1062.1" font-size="51.0" textLength="77.0" lengthAdjust="spacingAndGlyphs" text-anchor="middle">100</text>
<text x="969.3" y="1062.1" font-size="51.0" textLength="77.0" lengthAdjust="spacingAndGlyphs" text-anchor="middle">200</text>
<text x="1242.4" y="1062.1" font-size="51.0" textLength="77.0" lengthAdjust="spacingAndGlyphs" text-anchor="middle">300</text>
<text x="1515.4" y="1062.1" font-size="51.0" textLength="77.0" lengthAdjust="spacingAndGlyphs" text-anchor="middle">400</text>
<text x="1788.4" y="1062.1" font-size="51.0" textLength="77.0" lengthAdjust="spacingAndGlyphs" text-anchor="middle">500</text>
<text x="117.5" y="984.7" font-size="51.0" textLength="63.5" lengthAdjust="spacingAndGlyphs">0.0</text>
<circle cx="197.8" cy="971.8" r="2.9"/>
<text x="214.0" y="984.7" font-size="51.0" textLength="51.5" lengthAdjust="spacingAndGlyphs">10</text>
<text x="265.0" y="973.3" font-size="50.0" textLength="28.5" lengthAdjust="spacingAndGlyphs">+</text>
<text x="294.5" y="967.5" font-size="37.5" textLength="40.0" lengthAdjust="spacingAndGlyphs">00</text>
<text x="117.5" y="865.9" font-size="51.0" textLength="63.5" lengthAdjust="spacingAndGlyphs">2.0</text>
<circle cx="197.8" cy="853.0" r="2.9"/>
<text x="214.0" y="865.9" font-size="51.0" textLength="51.5" lengthAdjust="spacingAndGlyphs">10</text>
<text x="266.5" y="849.7" font-size="37.5" textLength="28.0" lengthAdjust="spacingAndGlyphs">−</text>
<text x="294.5" y="848.7" font-size="37.5" textLength="40.0" lengthAdjust="spacingAndGlyphs">03</text>
<text x="117.5" y="747.1" font-size="51.0" textLength="63.5" lengthAdjust="spacingAndGlyphs">4.0</text>
<circle cx="197.8" cy="734.2" r="2.9"/>
<text x="214.0" y="747.1" font-size="51.0" textLength="51.5" lengthAdjust="spacingAndGlyphs">10</text>
<text x="266.5" y="730.9" font-size="37.5" textLength="28.0" lengthAdjust="spacingAndGlyphs">−</text>
<text x="294.5" y="729.9" font-size="37.5" textLength="40.0" lengthAdjust="spacingAndGlyphs">03</text>
<text x="117.5" y="628.3" font-size="51.0" textLength="63.5" lengthAdjust="spacingAndGlyphs">6.0</text>
<circle cx="197.8" cy="615.4" r="2.9"/>
<text x="214.0" y="628.3" font-size="51.0" textLength="51.5" lengthAdjust="spacingAndGlyphs">10</text>
<text x="266.5" y="612.1" font-size="37.5" textLength="28.0" lengthAdjust="spacingAndGlyphs">−</text>
<text x="294.5" y="611.1" font-size="37.5" textLength="40.0" lengthAdjust="spacingAndGlyphs">03</text>
<text x="117.5" y="509.5" font-size="51.0" textLength="63.5" lengthAdjust="spacingAndGlyphs">8.0</text>
<circle cx="197.8" cy="496.6" r="2.9"/>
<text x="214.0" y="509.5" font-size="51.0" textLength="51.5" lengthAdjust="spacingAndGlyphs">10</text>
<text x="266.5" y="493.3" font-size="37.5" textLength="28.0" lengthAdjust="spacingAndGlyphs">−</text>
<text x="294.5" y="492.3" font-size="37.5" textLength="40.0" lengthAdjust="spacingAndGlyphs">03</text>
<text x="117.5" y="390.6" font-size="51.0" textLength="63.5" lengthAdjust="spacingAndGlyphs">1.0</text>
<circle cx="197.8" cy="377.8" r="2.9"/>
<text x="214.0" y="390.6" font-size="51.0" textLength="51.5" lengthAdjust="spacingAndGlyphs">10</text>
<text x="266.5" y="374.4" font-size="37.5" textLength="28.0" lengthAdjust="spacingAndGlyphs">−</text>
<text x="294.5" y="373.4" font-size="37.5" textLength="40.0" lengthAdjust="spacingAndGlyphs">02</text>
<text x="117.5" y="271.8" font-size="51.0" textLength="63.5" lengthAdjust="spacingAndGlyphs">1.2</text>
<circle cx="197.8" cy="258.9" r="2.9"/>
<text x="214.0" y="271.8" font-size="51.0" textLength="51.5" lengthAdjust="spacingAndGlyphs">10</text>
<text x="266.5" y="255.6" font-size="37.5" textLength="28.0" lengthAdjust="spacingAndGlyphs">−</text>
<text x="294.5" y="254.6" font-size="37.5" textLength="40.0" lengthAdjust="spacingAndGlyphs">02</text>
<text x="117.5" y="153.0" font-size="51.0" textLength="63.5" lengthAdjust="spacingAndGlyphs">1.4</text>
<circle cx="197.8" cy="140.1" r="2.9"/>
<text x="214.0" y="153.0" font-size="51.0" textLength="51.5" lengthAdjust="spacingAndGlyphs">10</text>
<text x="266.5" y="136.8" font-size="37.5" textLength="28.0" lengthAdjust="spacingAndGlyphs">−</text>
<text x="294.5" y="135.8" font-size="37.5" textLength="40.0" lengthAdjust="spacingAndGlyphs">02</text>
<text x="1034.5" y="1128.7" font-size="59.0" textLength="110.0" lengthAdjust="spacingAndGlyphs">Step</text>
<text x="1160.5" y="1128.7" font-size="61.0" font-style="italic" textLength="17.0" lengthAdjust="spacingAndGlyphs">j</text>
<text x="226.5" y="66.0" font-size="56.5" textLength="270.5" lengthAdjust="spacingAndGlyphs">Probability</text>
<text x="511.5" y="66.0" font-size="56.5" textLength="235.5" lengthAdjust="spacingAndGlyphs">evolution</text>
<text x="763.5" y="66.0" font-size="56.5" textLength="109.5" lengthAdjust="spacingAndGlyphs">with</text>
<text x="886.5" y="66.0" font-size="56.5" textLength="212.5" lengthAdjust="spacingAndGlyphs">different</text>
<text x="1108.5" y="66.0" font-size="56.5" textLength="166.5" lengthAdjust="spacingAndGlyphs">spatial</text>
<text x="1287.0" y="66.0" font-size="56.5" textLength="131.0" lengthAdjust="spacingAndGlyphs">noise</text>
<text x="1430.5" y="66.0" font-size="56.5" textLength="154.5" lengthAdjust="spacingAndGlyphs">ratios,</text>
<path d="M1603.5 51.0l6 -3.5l12.5 26l24.5 -57.5h50.5" fill="none" stroke="#000" stroke-width="2.4" stroke-linejoin="miter"/>
<text x="1650.0" y="66.0" font-size="54.0" font-style="italic" textLength="44.0" lengthAdjust="spacingAndGlyphs">N</text>
<text x="1711.5" y="74.6" font-size="56.5" textLength="47.0" lengthAdjust="spacingAndGlyphs">=</text>
<text x="1771.5" y="66.0" font-size="55.0" textLength="86.5" lengthAdjust="spacingAndGlyphs">200</text>
<g transform="translate(76.4 547.2) rotate(-90)"><text x="-101.0" y="0.0" font-size="56.5" font-style="italic" textLength="35.0" lengthAdjust="spacingAndGlyphs">P</text><text x="-63.0" y="-21.0" font-size="42.5" font-style="italic" textLength="14.0" lengthAdjust="spacingAndGlyphs">r</text><text x="-70.0" y="20.0" font-size="46.0" font-style="italic" textLength="13.0" lengthAdjust="spacingAndGlyphs">j</text><text x="-44.5" y="0.9" font-size="65.8" textLength="19.0" lengthAdjust="spacingAndGlyphs">(</text><text x="-23.0" y="0.0" font-size="56.5" textLength="82.0" lengthAdjust="spacingAndGlyphs">200</text><text x="61.0" y="-21.0" font-size="42.5" textLength="21.0" lengthAdjust="spacingAndGlyphs">2</text><text x="84.0" y="0.9" font-size="65.8" textLength="19.0" lengthAdjust="spacingAndGlyphs">)</text></g>
<rect x="1884.7" y="113.8" width="434.1" height="433.6" rx="9.5" fill="#fff" stroke="#d4d4d4" stroke-width="3.4"/>
<path d="M1904.9 156.3h116.2" stroke="#1f77b4" stroke-width="5.2"/>
<text x="2062.0" y="176.7" font-size="56.5" textLength="175.5" lengthAdjust="spacingAndGlyphs">r=1/20</text>
<path d="M1904.9 239.7h116.2" stroke="#ff7f0e" stroke-width="5.2"/>
<text x="2062.0" y="260.1" font-size="56.5" textLength="127.0" lengthAdjust="spacingAndGlyphs">r=0.5</text>
<path d="M1904.9 323.1h116.2" stroke="#2ca02c" stroke-width="5.2"/>
<text x="2062.0" y="343.5" font-size="56.5" textLength="148.0" lengthAdjust="spacingAndGlyphs">r=1/3</text>
<path d="M1904.9 406.5h116.2" stroke="#d62728" stroke-width="5.2"/>
<text x="2062.0" y="426.9" font-size="56.5" textLength="128.0" lengthAdjust="spacingAndGlyphs">r=0.9</text>
<path d="M1907.5 489.9h111.0" stroke="#000" stroke-width="5.2" stroke-dasharray="19.3 8.3"/>
<text x="2062.0" y="510.3" font-size="56.5" textLength="235.0" lengthAdjust="spacingAndGlyphs">Noiseless</text>
<g stroke="#b0b0b0" stroke-width="2.8" fill="none">
<path d="M423.3 1249.4V2166.4"/>
<path d="M696.3 1249.4V2166.4"/>
<path d="M969.3 1249.4V2166.4"/>
<path d="M1242.4 1249.4V2166.4"/>
<path d="M1515.4 1249.4V2166.4"/>
<path d="M1788.4 1249.4V2166.4"/>
<path d="M355.5 2128.8H1857.0"/>
<path d="M355.5 2005.1H1857.0"/>
<path d="M355.5 1881.3H1857.0"/>
<path d="M355.5 1757.6H1857.0"/>
<path d="M355.5 1633.8H1857.0"/>
<path d="M355.5 1510.1H1857.0"/>
<path d="M355.5 1386.3H1857.0"/>
<path d="M355.5 1262.6H1857.0"/>
</g>
<g fill="none" stroke-width="5.2" stroke-linejoin="round" stroke-linecap="square">
<path stroke="#1f77b4" d="M423.4 2124.8C424.5 2124.7 427.9 2125.2 430.1 2124.2C432.3 2123.2 434.0 2121.6 436.4 2119.0C438.8 2116.4 441.7 2112.3 444.3 2108.5C446.9 2104.7 448.9 2101.3 451.9 2096.1C454.9 2090.9 458.8 2085.0 462.5 2077.3C466.2 2069.6 469.6 2061.9 474.0 2049.8C478.4 2037.8 484.4 2019.7 489.0 2004.9C493.6 1990.1 497.2 1975.6 501.3 1960.9C505.4 1946.2 510.0 1930.3 513.8 1917.0C517.6 1903.7 521.2 1890.8 523.9 1881.3C526.6 1871.8 527.0 1870.3 529.9 1860.0C532.8 1849.7 537.6 1832.7 541.1 1819.7C544.6 1806.8 547.8 1794.8 551.1 1782.3C554.4 1769.8 558.4 1755.3 561.1 1744.9C563.8 1734.5 565.0 1729.3 567.3 1720.0C569.6 1710.7 572.1 1699.4 575.0 1688.8C578.0 1678.2 581.7 1666.4 585.0 1656.4C588.3 1646.4 591.7 1637.1 595.0 1629.0C598.3 1620.9 601.4 1614.0 604.7 1607.8C608.0 1601.6 611.4 1596.2 614.7 1591.6C618.0 1587.0 621.3 1583.3 624.7 1580.4C628.0 1577.5 631.3 1575.4 634.6 1574.1C638.0 1572.9 641.2 1572.7 644.6 1572.9C648.0 1573.1 651.6 1573.7 655.1 1575.4C658.6 1577.0 662.2 1579.7 665.8 1582.9C669.4 1586.0 673.0 1589.7 676.5 1594.1C680.1 1598.4 683.6 1603.6 687.0 1609.0C690.5 1614.4 693.9 1620.1 697.2 1626.5C700.6 1632.9 703.9 1640.4 707.2 1647.7C710.5 1655.0 713.8 1662.6 717.2 1670.1C720.5 1677.6 724.7 1687.6 727.1 1692.6C729.6 1697.5 729.6 1695.0 732.1 1700.0C734.6 1705.0 738.8 1715.0 742.1 1722.4C745.4 1729.9 748.8 1737.6 752.1 1744.9C755.4 1752.2 758.6 1759.4 761.8 1766.1C765.0 1772.7 768.3 1779.0 771.5 1784.8C774.7 1790.6 777.8 1796.2 781.0 1801.0C784.2 1805.8 787.3 1809.9 790.5 1813.5C793.6 1817.0 796.4 1819.7 800.0 1822.2C803.5 1824.7 807.9 1827.0 811.9 1828.4C815.9 1829.8 819.8 1830.4 823.9 1830.4C828.0 1830.4 832.2 1829.8 836.4 1828.4C840.5 1827.0 844.7 1824.9 848.8 1822.2C853.0 1819.5 857.5 1815.5 861.3 1812.2C865.1 1808.9 868.0 1806.2 871.5 1802.2C874.9 1798.3 878.5 1793.5 881.9 1788.5C885.4 1783.5 888.8 1777.7 892.2 1772.3C895.5 1766.9 898.8 1761.7 902.1 1756.1C905.5 1750.5 908.6 1744.7 912.1 1738.6C915.6 1732.6 919.4 1726.6 923.1 1720.0C926.8 1713.4 930.3 1706.3 934.3 1698.8C938.3 1691.3 943.0 1682.8 947.3 1675.1C951.6 1667.4 956.0 1659.7 960.2 1652.7C964.5 1645.6 968.6 1638.8 972.7 1632.7C976.8 1626.6 980.2 1621.6 984.7 1616.0C989.2 1610.4 994.6 1604.4 999.6 1599.1C1004.6 1593.7 1009.6 1589.0 1014.6 1584.1C1019.6 1579.2 1024.6 1574.1 1029.6 1569.9C1034.5 1565.7 1039.5 1562.2 1044.5 1558.7C1049.5 1555.1 1054.5 1552.0 1059.5 1548.7C1064.5 1545.4 1069.5 1542.0 1074.4 1538.7C1079.4 1535.5 1084.4 1532.8 1089.4 1529.2C1094.4 1525.7 1099.4 1521.7 1104.4 1517.5C1109.4 1513.4 1114.3 1508.9 1119.3 1504.3C1124.3 1499.7 1129.3 1495.2 1134.3 1490.1C1139.3 1485.0 1144.3 1479.5 1149.2 1473.9C1154.2 1468.2 1159.2 1462.2 1164.2 1456.2C1169.2 1450.2 1174.2 1443.9 1179.2 1437.7C1184.2 1431.5 1189.1 1425.2 1194.1 1419.0C1199.1 1412.9 1204.1 1406.5 1209.1 1400.8C1214.1 1395.2 1219.1 1390.2 1224.1 1385.1C1229.0 1380.1 1234.0 1375.3 1239.0 1370.4C1244.0 1365.5 1249.0 1360.4 1254.0 1355.9C1259.0 1351.5 1263.9 1347.1 1268.9 1343.5C1273.9 1339.9 1278.9 1336.9 1283.9 1334.3C1288.9 1331.6 1293.9 1329.1 1298.9 1327.5C1303.8 1325.9 1310.3 1325.1 1313.8 1324.5C1317.3 1323.9 1316.9 1324.2 1320.0 1324.0C1323.1 1323.9 1328.3 1323.3 1332.5 1323.5C1336.6 1323.7 1340.8 1324.6 1344.9 1325.3C1349.1 1326.0 1353.2 1326.8 1357.4 1327.8C1361.6 1328.7 1365.3 1329.6 1369.9 1331.0C1374.4 1332.4 1379.8 1334.2 1384.8 1336.0C1389.8 1337.8 1394.8 1339.8 1399.8 1341.7C1404.8 1343.7 1409.8 1345.6 1414.8 1347.7C1419.7 1349.8 1424.7 1352.2 1429.7 1354.2C1434.7 1356.2 1439.7 1357.7 1444.7 1359.7C1449.7 1361.6 1454.6 1364.1 1459.6 1365.9C1464.6 1367.8 1469.6 1369.3 1474.6 1370.9C1479.6 1372.5 1484.6 1373.9 1489.6 1375.4C1494.5 1376.9 1499.5 1378.6 1504.5 1380.1C1509.5 1381.7 1514.5 1383.0 1519.5 1384.6C1524.5 1386.3 1529.5 1388.1 1534.4 1390.1C1539.4 1392.1 1544.4 1394.4 1549.4 1396.6C1554.4 1398.8 1559.4 1400.8 1564.4 1403.3C1569.4 1405.8 1574.3 1408.5 1579.3 1411.6C1584.3 1414.6 1589.3 1417.8 1594.3 1421.5C1599.3 1425.3 1604.3 1429.5 1609.2 1434.0C1614.2 1438.4 1619.9 1443.4 1624.2 1448.2C1628.5 1453.0 1630.6 1456.4 1634.8 1462.6C1639.0 1468.8 1644.6 1477.5 1649.4 1485.5C1654.2 1493.5 1659.1 1501.6 1663.9 1510.4C1668.7 1519.2 1673.6 1527.5 1678.4 1538.4C1683.2 1549.3 1687.8 1562.6 1693.0 1575.8C1698.2 1589.0 1705.7 1607.7 1709.6 1617.4C1713.5 1627.1 1714.0 1627.6 1716.4 1634.0C1718.8 1640.4 1721.6 1648.4 1724.2 1655.9C1726.8 1663.4 1729.4 1671.2 1732.0 1679.2C1734.6 1687.2 1737.2 1695.6 1739.8 1704.2C1742.4 1712.8 1745.1 1721.9 1747.6 1730.7C1750.1 1739.5 1752.3 1748.6 1754.6 1757.2C1756.9 1765.8 1759.4 1774.0 1761.6 1782.1C1763.8 1790.1 1765.7 1798.0 1767.8 1805.5C1769.9 1813.0 1772.0 1820.5 1774.1 1827.3C1776.2 1834.0 1778.3 1840.8 1780.3 1846.0C1782.2 1851.2 1784.4 1855.7 1785.8 1858.5C1787.2 1861.3 1788.0 1861.9 1788.4 1862.6"/>
<path stroke="#ff7f0e" d="M423.4 2124.8C424.5 2124.7 427.9 2125.1 430.1 2124.2C432.3 2123.3 434.0 2121.8 436.4 2119.5C438.8 2117.2 441.7 2113.6 444.3 2110.5C446.9 2107.4 449.5 2103.9 451.9 2101.0C454.3 2098.1 456.3 2095.8 458.5 2093.0C460.7 2090.2 463.0 2087.5 465.2 2084.2C467.4 2080.9 469.4 2076.9 471.5 2073.2C473.6 2069.5 475.7 2065.7 477.8 2061.8C479.9 2057.9 482.0 2054.0 484.0 2049.9C486.0 2045.8 488.0 2041.3 490.0 2037.4C492.0 2033.5 494.0 2030.1 496.0 2026.5C498.0 2022.9 500.0 2019.2 502.0 2015.6C504.0 2012.0 505.8 2008.6 507.8 2004.9C509.9 2001.2 512.2 1997.4 514.3 1993.5C516.4 1989.6 518.4 1985.3 520.5 1981.3C522.6 1977.3 525.0 1973.0 526.8 1969.4C528.6 1965.9 529.2 1964.2 531.4 1960.0C533.5 1955.8 536.6 1950.1 539.7 1944.2C542.8 1938.3 546.1 1931.5 550.1 1924.4C554.1 1917.3 559.8 1907.0 563.6 1901.6C567.4 1896.2 570.1 1895.6 573.0 1892.2C575.9 1888.8 577.0 1886.3 580.8 1881.3C584.6 1876.3 590.6 1867.8 595.8 1862.1C601.0 1856.4 606.3 1852.1 611.9 1847.1C617.5 1842.1 623.2 1836.3 629.4 1832.2C635.6 1828.0 643.5 1825.3 649.4 1822.2C655.2 1819.1 659.3 1816.3 664.3 1813.5C669.3 1810.6 673.9 1807.7 679.3 1805.2C684.7 1802.7 690.1 1800.2 696.7 1798.5C703.4 1796.8 713.4 1796.5 719.2 1795.3C725.0 1794.0 727.5 1792.1 731.6 1791.0C735.8 1790.0 739.5 1790.3 744.1 1789.0C748.7 1787.8 753.2 1784.7 759.1 1783.5C764.9 1782.4 773.2 1782.6 779.0 1782.3C784.8 1782.0 789.0 1782.5 794.0 1781.8C799.0 1781.0 803.1 1779.0 808.9 1777.8C814.8 1776.6 823.1 1776.1 828.9 1774.8C834.7 1773.6 839.3 1771.8 843.8 1770.3C848.4 1768.9 853.6 1766.8 856.3 1766.1C859.0 1765.4 858.1 1766.4 860.0 1766.1C861.9 1765.8 865.0 1765.5 867.5 1764.3C870.0 1763.2 872.1 1761.3 875.0 1759.3C877.9 1757.4 881.6 1754.2 884.9 1752.4C888.3 1750.6 891.6 1750.7 894.9 1748.6C898.2 1746.5 901.6 1742.4 904.9 1739.9C908.2 1737.4 911.5 1735.4 914.9 1733.7C918.2 1731.9 920.3 1731.7 924.8 1729.4C929.4 1727.1 937.7 1722.4 942.3 1720.0C946.9 1717.6 948.5 1717.1 952.3 1715.0C956.0 1712.9 961.0 1710.0 964.7 1707.5C968.5 1705.0 971.4 1702.5 974.7 1700.1C978.0 1697.6 981.4 1694.6 984.7 1692.6C988.0 1690.5 990.5 1690.1 994.6 1687.6C998.8 1685.1 1005.0 1680.5 1009.6 1677.6C1014.2 1674.7 1018.3 1672.4 1022.1 1670.1C1025.8 1667.8 1028.7 1666.4 1032.1 1663.9C1035.4 1661.4 1039.1 1657.7 1042.0 1655.2C1044.9 1652.7 1046.6 1650.2 1049.5 1648.9C1052.4 1647.7 1055.7 1649.1 1059.5 1647.7C1063.2 1646.2 1068.2 1642.1 1071.9 1640.2C1075.7 1638.3 1078.6 1637.5 1081.9 1636.5C1085.2 1635.4 1088.6 1635.2 1091.9 1634.0C1095.2 1632.7 1098.5 1630.4 1101.9 1629.0C1105.2 1627.5 1108.5 1627.5 1111.8 1625.2C1115.2 1623.0 1118.5 1617.8 1121.8 1615.3C1125.1 1612.8 1128.5 1612.2 1131.8 1610.3C1135.1 1608.4 1138.4 1606.1 1141.8 1604.1C1145.1 1602.0 1148.4 1600.3 1151.7 1597.8C1155.1 1595.3 1158.0 1593.0 1161.7 1589.1C1165.5 1585.1 1170.0 1578.3 1174.2 1574.1C1178.3 1570.0 1182.5 1566.9 1186.6 1564.2C1190.8 1561.5 1195.4 1560.6 1199.1 1557.9C1202.9 1555.2 1205.8 1550.9 1209.1 1547.9C1212.4 1545.0 1215.3 1543.4 1219.1 1540.5C1222.8 1537.6 1227.8 1533.2 1231.5 1530.5C1235.3 1527.8 1237.8 1527.2 1241.5 1524.3C1245.2 1521.4 1249.8 1516.8 1254.0 1513.0C1258.1 1509.3 1262.3 1506.0 1266.4 1501.8C1270.6 1497.7 1274.8 1492.3 1278.9 1488.1C1283.1 1483.9 1287.6 1479.8 1291.4 1476.9C1295.1 1474.0 1298.0 1473.6 1301.4 1470.6C1304.7 1467.7 1308.2 1461.7 1311.3 1459.4C1314.4 1457.1 1317.3 1458.6 1320.0 1456.9C1322.7 1455.3 1324.6 1451.7 1327.5 1449.5C1330.4 1447.2 1334.1 1446.1 1337.5 1443.2C1340.8 1440.3 1344.1 1434.6 1347.4 1432.0C1350.8 1429.4 1353.7 1429.8 1357.4 1427.5C1361.1 1425.2 1366.1 1420.4 1369.9 1418.3C1373.6 1416.1 1376.5 1416.0 1379.8 1414.5C1383.2 1413.1 1386.9 1411.4 1389.8 1409.6C1392.7 1407.7 1394.4 1405.4 1397.3 1403.3C1400.2 1401.2 1403.9 1399.4 1407.3 1397.1C1410.6 1394.8 1413.9 1392.1 1417.2 1389.6C1420.6 1387.1 1423.9 1384.3 1427.2 1382.1C1430.5 1380.0 1433.9 1378.9 1437.2 1376.6C1440.5 1374.4 1443.8 1370.6 1447.2 1368.4C1450.5 1366.2 1453.8 1364.7 1457.1 1363.4C1460.5 1362.2 1463.8 1362.4 1467.1 1360.9C1470.4 1359.5 1473.4 1356.6 1477.1 1354.7C1480.8 1352.8 1485.8 1351.7 1489.6 1349.7C1493.3 1347.7 1496.2 1344.4 1499.5 1342.7C1502.9 1341.1 1505.8 1340.7 1509.5 1339.7C1513.2 1338.8 1518.2 1338.7 1522.0 1337.2C1525.7 1335.8 1528.2 1333.3 1531.9 1331.0C1535.7 1328.7 1540.7 1325.3 1544.4 1323.5C1548.2 1321.7 1551.1 1321.1 1554.4 1320.3C1557.7 1319.5 1561.5 1319.5 1564.4 1318.5C1567.3 1317.6 1568.9 1316.1 1571.8 1314.8C1574.8 1313.6 1578.5 1311.3 1581.8 1311.1C1585.1 1310.9 1588.5 1313.0 1591.8 1313.6C1595.1 1314.1 1598.4 1314.3 1601.8 1314.3C1605.1 1314.3 1607.6 1313.5 1611.7 1313.6C1615.9 1313.6 1622.1 1314.1 1626.7 1314.8C1631.3 1315.5 1635.4 1317.8 1639.2 1317.8C1642.9 1317.8 1646.2 1315.2 1649.1 1314.8C1652.1 1314.4 1653.7 1314.8 1656.6 1315.3C1659.5 1315.8 1662.9 1317.5 1666.6 1317.8C1670.3 1318.0 1674.9 1316.7 1679.1 1316.8C1683.2 1316.9 1688.2 1318.4 1691.5 1318.5C1694.9 1318.7 1696.1 1317.3 1699.0 1317.8C1701.9 1318.3 1705.7 1321.0 1709.0 1321.8C1712.3 1322.6 1715.6 1322.2 1719.0 1322.8C1722.3 1323.4 1725.6 1324.3 1728.9 1325.3C1732.3 1326.2 1736.0 1327.1 1738.9 1328.5C1741.8 1329.9 1743.9 1331.2 1746.4 1333.5C1748.9 1335.8 1751.4 1339.5 1753.9 1342.2C1756.4 1344.9 1758.9 1347.0 1761.4 1349.7C1763.8 1352.4 1766.3 1355.7 1768.8 1358.4C1771.3 1361.1 1773.8 1363.2 1776.3 1365.9C1778.8 1368.6 1781.8 1372.2 1783.8 1374.6C1785.8 1377.1 1787.6 1379.6 1788.4 1380.5"/>
<path stroke="#2ca02c" d="M423.4 2124.8C424.5 2124.7 427.9 2125.2 430.1 2124.2C432.3 2123.2 434.0 2121.6 436.4 2119.0C438.8 2116.4 441.7 2112.3 444.3 2108.5C446.9 2104.7 448.5 2101.3 451.9 2096.1C455.3 2090.9 460.5 2085.0 464.7 2077.3C468.9 2069.6 472.1 2061.9 477.1 2049.8C482.1 2037.8 490.5 2015.8 494.7 2004.9C498.9 1994.0 499.6 1991.8 502.3 1984.7C505.0 1977.6 507.8 1969.8 510.6 1962.3C513.4 1954.8 516.2 1947.1 519.0 1939.5C521.8 1931.9 524.9 1923.2 527.3 1916.6C529.7 1910.0 531.3 1905.6 533.5 1899.7C535.7 1893.8 537.2 1889.2 540.3 1881.3C543.4 1873.4 548.5 1860.7 552.1 1852.1C555.7 1843.5 558.3 1837.6 562.1 1829.7C565.8 1821.8 570.4 1812.2 574.5 1804.7C578.7 1797.2 582.9 1790.6 587.0 1784.8C591.2 1779.0 595.3 1774.0 599.5 1769.8C603.6 1765.7 607.8 1763.0 611.9 1759.8C616.1 1756.7 620.3 1754.2 624.4 1751.1C628.6 1748.0 632.7 1744.1 636.9 1741.1C641.0 1738.2 645.2 1735.7 649.4 1733.7C653.5 1731.6 658.1 1729.9 661.8 1728.7C665.6 1727.4 668.5 1727.4 671.8 1726.2C675.1 1724.9 678.0 1721.7 681.8 1721.2C685.5 1720.7 690.1 1722.7 694.2 1722.9C698.4 1723.1 702.5 1722.3 706.7 1722.4C710.9 1722.6 715.0 1723.1 719.2 1723.7C723.3 1724.2 726.6 1725.3 731.6 1725.7C736.6 1726.1 743.7 1725.9 749.1 1726.2C754.5 1726.5 759.1 1726.9 764.1 1727.4C769.0 1728.0 774.0 1729.1 779.0 1729.4C784.0 1729.8 789.0 1730.0 794.0 1729.4C799.0 1728.9 803.9 1727.1 808.9 1726.2C813.9 1725.2 819.3 1724.6 823.9 1723.7C828.5 1722.7 832.2 1721.9 836.4 1720.4C840.5 1719.0 844.9 1716.7 848.8 1715.0C852.8 1713.2 856.1 1711.9 860.0 1710.0C863.9 1708.2 868.3 1705.5 872.5 1703.8C876.6 1702.1 880.8 1701.7 884.9 1700.1C889.1 1698.4 893.2 1696.1 897.4 1693.8C901.6 1691.5 905.3 1688.4 909.9 1686.3C914.4 1684.3 920.3 1683.6 924.8 1681.4C929.4 1679.1 933.1 1675.2 937.3 1672.6C941.5 1670.0 946.0 1668.0 949.8 1665.9C953.5 1663.8 956.4 1661.7 959.7 1660.2C963.1 1658.7 966.4 1658.4 969.7 1656.9C973.0 1655.5 976.4 1653.8 979.7 1651.4C983.0 1649.1 986.3 1645.4 989.7 1642.7C993.0 1640.0 996.3 1637.3 999.6 1635.2C1003.0 1633.1 1006.3 1632.3 1009.6 1630.2C1012.9 1628.2 1016.3 1625.2 1019.6 1622.8C1022.9 1620.3 1026.2 1618.0 1029.6 1615.3C1032.9 1612.6 1036.2 1609.7 1039.5 1606.5C1042.9 1603.4 1045.8 1600.5 1049.5 1596.6C1053.2 1592.6 1058.2 1586.4 1062.0 1582.9C1065.7 1579.3 1068.2 1579.1 1071.9 1575.4C1075.7 1571.6 1080.7 1564.8 1084.4 1560.4C1088.2 1556.1 1091.1 1552.9 1094.4 1549.2C1097.7 1545.5 1100.2 1541.3 1104.4 1538.0C1108.5 1534.6 1114.8 1532.8 1119.3 1529.2C1123.9 1525.7 1127.6 1520.5 1131.8 1516.8C1135.9 1513.0 1140.1 1510.1 1144.3 1506.8C1148.4 1503.5 1153.0 1499.3 1156.7 1496.8C1160.5 1494.3 1163.4 1493.7 1166.7 1491.8C1170.0 1490.0 1172.9 1488.7 1176.7 1485.6C1180.4 1482.5 1184.6 1477.3 1189.1 1473.1C1193.7 1469.0 1199.5 1464.2 1204.1 1460.7C1208.7 1457.1 1212.4 1455.1 1216.6 1451.9C1220.7 1448.8 1224.9 1444.3 1229.0 1442.0C1233.2 1439.7 1236.9 1440.7 1241.5 1438.2C1246.1 1435.7 1252.3 1429.9 1256.5 1427.0C1260.6 1424.1 1262.3 1423.5 1266.4 1420.8C1270.6 1418.1 1276.8 1413.9 1281.4 1410.8C1286.0 1407.7 1290.5 1404.4 1293.9 1402.1C1297.2 1399.8 1298.4 1399.6 1301.4 1397.1C1304.3 1394.6 1308.2 1390.2 1311.3 1387.1C1314.4 1384.0 1316.9 1380.9 1320.0 1378.4C1323.1 1375.9 1326.6 1374.2 1330.0 1372.2C1333.3 1370.1 1336.2 1368.2 1339.9 1365.9C1343.7 1363.6 1348.3 1360.9 1352.4 1358.4C1356.6 1355.9 1361.1 1353.5 1364.9 1351.0C1368.6 1348.5 1371.5 1345.6 1374.9 1343.5C1378.2 1341.4 1381.1 1341.0 1384.8 1338.5C1388.6 1336.0 1393.1 1331.2 1397.3 1328.5C1401.5 1325.8 1406.0 1323.9 1409.8 1322.3C1413.5 1320.6 1416.4 1320.2 1419.7 1318.5C1423.1 1316.9 1426.0 1314.3 1429.7 1312.3C1433.5 1310.4 1438.4 1308.4 1442.2 1306.8C1445.9 1305.2 1448.8 1303.9 1452.2 1302.8C1455.5 1301.8 1458.8 1300.8 1462.1 1300.3C1465.5 1299.8 1468.4 1300.4 1472.1 1299.8C1475.8 1299.3 1480.8 1297.6 1484.6 1296.9C1488.3 1296.1 1491.2 1295.8 1494.5 1295.4C1497.9 1294.9 1501.2 1294.7 1504.5 1294.4C1507.8 1294.0 1511.2 1293.3 1514.5 1293.1C1517.8 1292.9 1521.1 1293.2 1524.5 1293.1C1527.8 1293.0 1531.1 1292.7 1534.4 1292.4C1537.8 1292.0 1541.1 1291.2 1544.4 1291.1C1547.7 1291.0 1551.1 1291.4 1554.4 1291.6C1557.7 1291.8 1561.0 1291.6 1564.4 1292.4C1567.7 1293.1 1571.0 1294.9 1574.3 1296.1C1577.7 1297.4 1581.0 1298.3 1584.3 1299.8C1587.6 1301.4 1591.0 1303.3 1594.3 1305.3C1597.6 1307.3 1600.9 1310.0 1604.3 1311.8C1607.6 1313.6 1610.9 1314.3 1614.2 1316.1C1617.6 1317.8 1620.9 1320.2 1624.2 1322.3C1627.5 1324.4 1630.9 1326.6 1634.2 1328.5C1637.5 1330.4 1640.8 1331.2 1644.2 1333.5C1647.5 1335.8 1651.2 1339.5 1654.1 1342.2C1657.0 1344.9 1659.1 1347.4 1661.6 1349.7C1664.1 1352.0 1666.6 1353.2 1669.1 1355.9C1671.6 1358.6 1674.1 1362.6 1676.6 1365.9C1679.1 1369.2 1681.6 1373.0 1684.1 1375.9C1686.5 1378.8 1689.0 1381.1 1691.5 1383.4C1694.0 1385.7 1696.9 1387.5 1699.0 1389.6C1701.1 1391.7 1701.5 1391.7 1704.0 1395.8C1706.5 1400.0 1710.6 1408.5 1714.0 1414.5C1717.3 1420.6 1720.6 1426.0 1723.9 1432.0C1727.3 1438.0 1730.6 1444.6 1733.9 1450.7C1737.2 1456.9 1740.6 1462.7 1743.9 1468.9C1747.2 1475.1 1750.5 1481.2 1753.9 1488.1C1757.2 1495.0 1760.5 1502.9 1763.8 1510.5C1767.2 1518.2 1770.9 1527.4 1773.8 1534.2C1776.7 1541.1 1778.9 1546.1 1781.3 1551.7C1783.7 1557.3 1787.2 1565.2 1788.4 1567.9"/>
<path stroke="#d62728" d="M423.4 2124.6C424.3 2124.6 426.3 2125.6 428.7 2124.6C431.0 2123.7 433.9 2121.5 437.4 2118.9C440.9 2116.3 445.7 2112.7 449.9 2108.9C454.0 2105.2 458.2 2100.4 462.3 2096.5C466.5 2092.5 470.6 2088.8 474.8 2085.2C479.0 2081.7 483.1 2078.2 487.3 2075.3C491.4 2072.4 496.0 2069.6 499.7 2067.8C503.5 2066.0 506.4 2066.0 509.7 2064.6C513.0 2063.1 516.4 2060.6 519.7 2059.1C523.0 2057.5 526.3 2056.4 529.7 2055.3C533.0 2054.3 536.7 2053.2 539.6 2052.8C542.5 2052.5 543.4 2054.0 547.1 2053.3C550.9 2052.7 557.9 2049.8 562.1 2049.1C566.2 2048.4 568.3 2049.6 572.1 2049.1C575.8 2048.6 581.2 2046.5 584.5 2045.8C587.8 2045.2 589.1 2045.2 592.0 2045.4C594.9 2045.5 598.6 2046.7 602.0 2046.6C605.3 2046.5 608.6 2045.7 611.9 2044.9C615.3 2044.0 617.8 2041.7 621.9 2041.6C626.1 2041.5 632.3 2044.2 636.9 2044.1C641.5 2044.0 645.2 2041.9 649.4 2041.1C653.5 2040.4 657.7 2040.2 661.8 2039.6C666.0 2039.1 670.1 2038.6 674.3 2037.9C678.4 2037.2 683.0 2036.1 686.8 2035.4C690.5 2034.7 693.0 2034.3 696.7 2033.6C700.5 2032.9 705.0 2032.3 709.2 2031.1C713.4 2030.0 717.5 2028.6 721.7 2026.6C725.8 2024.7 729.6 2020.8 734.1 2019.2C738.7 2017.5 744.5 2017.6 749.1 2016.7C753.7 2015.8 757.4 2014.6 761.6 2013.7C765.7 2012.8 770.3 2011.7 774.0 2011.2C777.8 2010.6 779.8 2011.2 784.0 2010.4C788.2 2009.7 794.4 2007.8 799.0 2006.7C803.5 2005.6 807.3 2004.5 811.4 2003.7C815.6 2002.9 819.7 2002.7 823.9 2001.7C828.1 2000.8 833.0 1998.9 836.4 1998.0C839.7 1997.0 840.9 1996.2 843.8 1996.0C846.8 1995.8 851.1 1996.8 853.8 1996.7C856.5 1996.6 857.3 1996.2 860.0 1995.5C862.7 1994.7 866.6 1993.0 870.0 1992.2C873.3 1991.5 875.4 1992.0 879.9 1991.0C884.5 1990.0 892.4 1988.2 897.4 1986.3C902.4 1984.3 905.7 1981.4 909.9 1979.3C914.0 1977.2 917.8 1975.5 922.3 1973.8C926.9 1972.0 933.6 1969.6 937.3 1968.8C941.0 1968.0 941.9 1969.2 944.8 1968.8C947.7 1968.4 951.8 1967.1 954.8 1966.3C957.7 1965.5 958.5 1964.2 962.2 1963.8C966.0 1963.4 973.5 1963.9 977.2 1963.8C980.9 1963.7 981.8 1963.7 984.7 1963.1C987.6 1962.4 990.5 1960.7 994.6 1959.8C998.8 1959.0 1005.5 1959.3 1009.6 1958.1C1013.8 1956.8 1016.3 1953.2 1019.6 1952.3C1022.9 1951.5 1026.2 1953.5 1029.6 1953.1C1032.9 1952.7 1036.8 1950.3 1039.5 1949.8C1042.2 1949.4 1043.7 1950.6 1045.8 1950.1C1047.8 1949.6 1049.7 1947.5 1052.0 1946.9C1054.3 1946.2 1057.0 1947.0 1059.5 1946.4C1062.0 1945.7 1064.1 1943.6 1067.0 1943.1C1069.9 1942.7 1074.2 1943.3 1076.9 1943.6C1079.6 1943.9 1081.1 1945.1 1083.2 1944.9C1085.2 1944.7 1086.3 1943.0 1089.4 1942.4C1092.5 1941.8 1098.1 1941.5 1101.9 1941.4C1105.6 1941.2 1108.9 1941.1 1111.8 1941.4C1114.8 1941.7 1116.4 1943.2 1119.3 1943.1C1122.2 1943.0 1125.6 1940.8 1129.3 1940.6C1133.0 1940.4 1138.4 1942.0 1141.8 1941.9C1145.1 1941.7 1146.3 1941.1 1149.2 1939.9C1152.2 1938.6 1155.5 1935.9 1159.2 1934.4C1163.0 1932.9 1168.8 1932.1 1171.7 1930.6C1174.6 1929.2 1174.6 1927.3 1176.7 1925.7C1178.8 1924.0 1180.8 1922.5 1184.2 1920.7C1187.5 1918.9 1192.5 1916.0 1196.6 1914.9C1200.8 1913.9 1205.4 1914.5 1209.1 1914.4C1212.8 1914.4 1216.2 1914.4 1219.1 1914.4C1222.0 1914.5 1224.1 1915.1 1226.5 1914.9C1229.0 1914.7 1231.1 1913.4 1234.0 1913.2C1236.9 1913.0 1241.1 1913.5 1244.0 1913.9C1246.9 1914.4 1249.0 1915.7 1251.5 1915.7C1254.0 1915.7 1256.1 1914.5 1259.0 1913.9C1261.9 1913.4 1264.8 1913.7 1268.9 1912.4C1273.1 1911.2 1279.3 1907.7 1283.9 1906.5C1288.5 1905.2 1292.6 1905.8 1296.4 1905.0C1300.1 1904.1 1303.4 1901.6 1306.3 1901.5C1309.2 1901.3 1311.5 1904.1 1313.8 1904.0C1316.1 1903.8 1317.3 1901.3 1320.0 1900.7C1322.7 1900.2 1327.1 1900.3 1330.0 1900.7C1332.9 1901.1 1334.1 1903.1 1337.5 1903.2C1340.8 1903.3 1345.8 1902.2 1349.9 1901.5C1354.1 1900.7 1358.6 1899.2 1362.4 1898.7C1366.1 1898.3 1369.5 1898.6 1372.4 1898.7C1375.3 1898.9 1377.8 1899.8 1379.8 1899.5C1381.9 1899.2 1382.3 1897.5 1384.8 1897.0C1387.3 1896.4 1391.9 1896.7 1394.8 1896.2C1397.7 1895.8 1399.0 1894.9 1402.3 1894.5C1405.6 1894.1 1411.0 1894.3 1414.8 1894.0C1418.5 1893.7 1422.2 1893.0 1424.7 1892.5C1427.2 1892.0 1427.2 1890.8 1429.7 1890.8C1432.2 1890.7 1436.8 1892.1 1439.7 1892.0C1442.6 1891.9 1444.5 1890.0 1447.2 1890.0C1449.9 1890.0 1453.0 1892.3 1455.9 1892.0C1458.8 1891.7 1461.5 1889.4 1464.6 1888.3C1467.7 1887.1 1471.3 1885.6 1474.6 1885.0C1477.9 1884.4 1481.2 1885.0 1484.6 1884.5C1487.9 1884.0 1491.2 1882.6 1494.5 1882.0C1497.9 1881.4 1500.8 1881.3 1504.5 1880.8C1508.3 1880.3 1513.7 1879.4 1517.0 1879.0C1520.3 1878.6 1522.0 1878.0 1524.5 1878.3C1527.0 1878.6 1529.0 1879.7 1531.9 1880.8C1534.9 1881.9 1538.8 1883.8 1541.9 1885.0C1545.0 1886.3 1547.7 1888.1 1550.6 1888.3C1553.6 1888.5 1556.9 1887.3 1559.4 1886.3C1561.9 1885.2 1563.1 1882.9 1565.6 1882.0C1568.1 1881.1 1571.2 1881.5 1574.3 1880.8C1577.5 1880.0 1581.4 1878.8 1584.3 1877.5C1587.2 1876.3 1589.1 1874.2 1591.8 1873.3C1594.5 1872.4 1597.6 1871.9 1600.5 1872.1C1603.4 1872.2 1606.5 1873.7 1609.2 1874.0C1611.9 1874.4 1613.8 1873.3 1616.7 1874.0C1619.6 1874.8 1623.4 1877.5 1626.7 1878.3C1630.0 1879.1 1633.8 1879.7 1636.7 1879.0C1639.6 1878.4 1641.7 1875.5 1644.2 1874.5C1646.6 1873.6 1649.1 1874.0 1651.6 1873.3C1654.1 1872.6 1656.6 1870.7 1659.1 1870.3C1661.6 1869.9 1663.3 1869.9 1666.6 1870.8C1669.9 1871.7 1675.3 1874.7 1679.1 1875.8C1682.8 1876.9 1685.7 1878.0 1689.0 1877.5C1692.4 1877.1 1695.9 1874.2 1699.0 1873.3C1702.1 1872.4 1705.2 1871.8 1707.7 1872.1C1710.2 1872.3 1711.3 1875.2 1714.0 1875.0C1716.7 1874.9 1721.5 1871.9 1723.9 1871.3C1726.4 1870.7 1726.0 1870.7 1728.9 1871.6C1731.8 1872.4 1738.1 1875.4 1741.4 1876.5C1744.7 1877.7 1746.0 1877.2 1748.9 1878.3C1751.8 1879.4 1755.9 1882.4 1758.9 1883.3C1761.8 1884.1 1763.4 1883.7 1766.3 1883.3C1769.2 1882.9 1773.4 1881.1 1776.3 1880.8C1779.2 1880.5 1781.8 1881.5 1783.8 1881.5C1785.8 1881.6 1787.6 1881.1 1788.4 1881.0"/>
<path stroke="#000" stroke-linecap="butt" stroke-dasharray="19.3 8.3" d="M423.4 2124.8C424.5 2124.7 427.9 2125.2 430.1 2124.2C432.3 2123.2 434.0 2121.6 436.4 2119.0C438.8 2116.4 441.7 2112.3 444.3 2108.5C446.9 2104.7 448.9 2101.3 451.9 2096.1C454.9 2090.9 458.8 2085.0 462.5 2077.3C466.2 2069.6 469.6 2061.9 474.0 2049.8C478.4 2037.8 484.4 2019.7 489.0 2004.9C493.6 1990.1 497.2 1975.6 501.3 1960.9C505.4 1946.2 510.0 1930.3 513.8 1917.0C517.6 1903.7 521.2 1890.8 523.9 1881.3C526.6 1871.8 527.0 1870.3 529.9 1860.0C532.8 1849.7 537.6 1832.7 541.1 1819.7C544.6 1806.8 547.8 1794.8 551.1 1782.3C554.4 1769.8 558.4 1755.3 561.1 1744.9C563.8 1734.5 565.0 1729.3 567.3 1720.0C569.6 1710.7 572.1 1699.4 575.0 1688.8C578.0 1678.2 581.7 1666.5 585.0 1656.4C588.3 1646.4 591.7 1636.8 595.0 1628.5C598.3 1620.2 601.4 1613.0 604.7 1606.5C608.0 1600.1 611.4 1594.5 614.7 1589.6C618.0 1584.7 621.3 1580.3 624.7 1577.1C628.0 1573.9 631.3 1571.8 634.6 1570.4C638.0 1569.0 641.2 1568.5 644.6 1568.6C648.1 1568.8 651.7 1569.4 655.3 1571.1C659.0 1572.9 662.6 1575.7 666.3 1579.1C670.0 1582.5 673.7 1586.8 677.3 1591.6C680.9 1596.4 684.6 1602.0 688.0 1607.8C691.4 1613.6 694.7 1619.8 698.0 1626.5C701.3 1633.1 704.5 1640.4 707.7 1647.7C710.9 1655.0 714.1 1662.6 717.4 1670.1C720.7 1677.6 724.9 1687.6 727.4 1692.6C729.9 1697.5 729.9 1695.0 732.4 1700.0C734.9 1705.0 739.0 1715.0 742.4 1722.4C745.7 1729.9 749.0 1737.6 752.3 1744.9C755.6 1752.2 758.8 1759.4 762.1 1766.1C765.3 1772.7 768.6 1778.8 771.8 1784.8C775.0 1790.7 778.1 1796.7 781.3 1801.7C784.4 1806.7 787.6 1810.7 790.7 1814.7C793.9 1818.7 796.7 1822.7 800.2 1825.9C803.7 1829.2 807.6 1832.4 811.9 1834.2C816.3 1835.9 821.9 1836.3 826.4 1836.4C830.9 1836.5 834.7 1836.0 838.9 1834.6C843.0 1833.3 847.2 1831.3 851.3 1828.4C855.5 1825.5 860.4 1821.1 863.8 1817.2C867.1 1813.2 868.4 1809.1 871.5 1804.7C874.5 1800.4 878.5 1796.1 881.9 1791.0C885.4 1785.9 888.8 1779.9 892.2 1774.3C895.5 1768.7 898.8 1763.2 902.1 1757.4C905.5 1751.5 908.6 1745.6 912.1 1739.4C915.6 1733.2 919.4 1726.8 923.1 1720.0C926.8 1713.2 930.3 1706.3 934.3 1698.8C938.3 1691.3 943.0 1682.8 947.3 1675.1C951.6 1667.4 956.0 1659.7 960.2 1652.7C964.5 1645.6 968.6 1638.8 972.7 1632.7C976.8 1626.6 980.2 1621.6 984.7 1616.0C989.2 1610.4 994.6 1604.4 999.6 1599.1C1004.6 1593.7 1009.6 1589.0 1014.6 1584.1C1019.6 1579.2 1024.6 1574.1 1029.6 1569.9C1034.5 1565.7 1039.5 1562.2 1044.5 1558.7C1049.5 1555.1 1054.5 1551.9 1059.5 1548.7C1064.5 1545.5 1069.5 1542.3 1074.4 1539.5C1079.4 1536.6 1084.4 1534.8 1089.4 1531.7C1094.4 1528.7 1099.4 1525.0 1104.4 1521.3C1109.4 1517.5 1114.3 1513.5 1119.3 1509.3C1124.3 1505.1 1129.3 1501.0 1134.3 1496.3C1139.3 1491.7 1144.3 1486.7 1149.2 1481.4C1154.2 1476.0 1159.2 1470.2 1164.2 1464.2C1169.2 1458.1 1174.2 1451.7 1179.2 1445.2C1184.2 1438.7 1189.1 1431.8 1194.1 1425.3C1199.1 1418.7 1204.1 1412.1 1209.1 1405.8C1214.1 1399.5 1219.1 1393.4 1224.1 1387.6C1229.0 1381.8 1234.0 1376.4 1239.0 1371.2C1244.0 1365.9 1249.0 1360.8 1254.0 1355.9C1259.0 1351.1 1263.9 1346.3 1268.9 1342.2C1273.9 1338.2 1278.9 1334.8 1283.9 1331.8C1288.9 1328.8 1293.9 1326.2 1298.9 1324.3C1303.8 1322.4 1310.3 1321.3 1313.8 1320.5C1317.3 1319.8 1317.3 1319.9 1320.0 1319.8C1322.7 1319.7 1326.2 1319.5 1330.0 1319.8C1333.7 1320.1 1338.3 1321.0 1342.4 1321.8C1346.6 1322.6 1350.3 1323.2 1354.9 1324.8C1359.5 1326.3 1364.9 1328.7 1369.9 1331.0C1374.9 1333.3 1379.8 1335.7 1384.8 1338.5C1389.8 1341.3 1394.8 1344.6 1399.8 1347.7C1404.8 1350.8 1409.8 1354.0 1414.8 1357.2C1419.7 1360.4 1424.7 1363.7 1429.7 1366.7C1434.7 1369.7 1439.7 1372.4 1444.7 1375.1C1449.7 1377.9 1454.6 1381.0 1459.6 1383.4C1464.6 1385.8 1469.6 1387.5 1474.6 1389.6C1479.6 1391.7 1484.6 1394.0 1489.6 1395.8C1494.5 1397.7 1499.5 1399.3 1504.5 1400.8C1509.5 1402.4 1514.5 1403.6 1519.5 1405.1C1524.5 1406.5 1529.5 1408.0 1534.4 1409.6C1539.4 1411.1 1544.4 1412.9 1549.4 1414.5C1554.4 1416.2 1559.4 1417.7 1564.4 1419.5C1569.4 1421.4 1574.3 1423.3 1579.3 1425.8C1584.3 1428.3 1589.3 1431.3 1594.3 1434.5C1599.3 1437.7 1603.5 1440.1 1609.2 1445.0C1615.0 1449.8 1621.9 1456.7 1628.6 1463.6C1635.3 1470.5 1643.5 1478.7 1649.4 1486.5C1655.3 1494.3 1659.1 1501.8 1663.9 1510.4C1668.7 1519.1 1673.6 1527.5 1678.4 1538.4C1683.2 1549.3 1687.8 1562.6 1693.0 1575.8C1698.2 1589.0 1705.7 1607.7 1709.6 1617.4C1713.5 1627.1 1714.0 1627.6 1716.4 1634.0C1718.8 1640.4 1721.6 1648.4 1724.2 1655.9C1726.8 1663.4 1729.4 1671.2 1732.0 1679.2C1734.6 1687.2 1737.2 1695.6 1739.8 1704.2C1742.4 1712.8 1745.1 1721.9 1747.6 1730.7C1750.1 1739.5 1752.3 1748.6 1754.6 1757.2C1756.9 1765.8 1759.4 1774.0 1761.6 1782.1C1763.8 1790.1 1765.7 1798.0 1767.8 1805.5C1769.9 1813.0 1772.0 1820.5 1774.1 1827.3C1776.2 1834.0 1778.3 1840.8 1780.3 1846.0C1782.2 1851.2 1784.4 1854.5 1785.8 1858.5C1787.2 1862.5 1788.0 1868.2 1788.4 1870.1"/>
</g>
<g stroke="#000" stroke-width="2.8" fill="none">
<path d="M423.3 2166.4v12.2"/>
<path d="M696.3 2166.4v12.2"/>
<path d="M969.3 2166.4v12.2"/>
<path d="M1242.4 2166.4v12.2"/>
<path d="M1515.4 2166.4v12.2"/>
<path d="M1788.4 2166.4v12.2"/>
<path d="M355.5 2128.8h-12.2"/>
<path d="M355.5 2005.1h-12.2"/>
<path d="M355.5 1881.3h-12.2"/>
<path d="M355.5 1757.6h-12.2"/>
<path d="M355.5 1633.8h-12.2"/>
<path d="M355.5 1510.1h-12.2"/>
<path d="M355.5 1386.3h-12.2"/>
<path d="M355.5 1262.6h-12.2"/>
<rect x="355.5" y="1249.4" width="1501.5" height="917.0" stroke-linejoin="miter"/>
</g>
<text x="423.3" y="2225.6" font-size="51.0" textLength="26.5" lengthAdjust="spacingAndGlyphs" text-anchor="middle">0</text>
<text x="696.3" y="2225.6" font-size="51.0" textLength="77.0" lengthAdjust="spacingAndGlyphs" text-anchor="middle">100</text>
<text x="969.3" y="2225.6" font-size="51.0" textLength="77.0" lengthAdjust="spacingAndGlyphs" text-anchor="middle">200</text>
<text x="1242.4" y="2225.6" font-size="51.0" textLength="77.0" lengthAdjust="spacingAndGlyphs" text-anchor="middle">300</text>
<text x="1515.4" y="2225.6" font-size="51.0" textLength="77.0" lengthAdjust="spacingAndGlyphs" text-anchor="middle">400</text>
<text x="1788.4" y="2225.6" font-size="51.0" textLength="77.0" lengthAdjust="spacingAndGlyphs" text-anchor="middle">500</text>
<text x="117.5" y="2146.2" font-size="51.0" textLength="63.5" lengthAdjust="spacingAndGlyphs">0.0</text>
<circle cx="197.8" cy="2133.3" r="2.9"/>
<text x="214.0" y="2146.2" font-size="51.0" textLength="51.5" lengthAdjust="spacingAndGlyphs">10</text>
<text x="265.0" y="2134.8" font-size="50.0" textLength="28.5" lengthAdjust="spacingAndGlyphs">+</text>
<text x="294.5" y="2129.0" font-size="37.5" textLength="40.0" lengthAdjust="spacingAndGlyphs">00</text>
<text x="117.5" y="2022.5" font-size="51.0" textLength="63.5" lengthAdjust="spacingAndGlyphs">5.0</text>
<circle cx="197.8" cy="2009.6" r="2.9"/>
<text x="214.0" y="2022.5" font-size="51.0" textLength="51.5" lengthAdjust="spacingAndGlyphs">10</text>
<text x="266.5" y="2006.3" font-size="37.5" textLength="28.0" lengthAdjust="spacingAndGlyphs">−</text>
<text x="294.5" y="2005.3" font-size="37.5" textLength="40.0" lengthAdjust="spacingAndGlyphs">04</text>
<text x="117.5" y="1898.7" font-size="51.0" textLength="63.5" lengthAdjust="spacingAndGlyphs">1.0</text>
<circle cx="197.8" cy="1885.8" r="2.9"/>
<text x="214.0" y="1898.7" font-size="51.0" textLength="51.5" lengthAdjust="spacingAndGlyphs">10</text>
<text x="266.5" y="1882.5" font-size="37.5" textLength="28.0" lengthAdjust="spacingAndGlyphs">−</text>
<text x="294.5" y="1881.5" font-size="37.5" textLength="40.0" lengthAdjust="spacingAndGlyphs">03</text>
<text x="117.5" y="1775.0" font-size="51.0" textLength="63.5" lengthAdjust="spacingAndGlyphs">1.5</text>
<circle cx="197.8" cy="1762.1" r="2.9"/>
<text x="214.0" y="1775.0" font-size="51.0" textLength="51.5" lengthAdjust="spacingAndGlyphs">10</text>
<text x="266.5" y="1758.8" font-size="37.5" textLength="28.0" lengthAdjust="spacingAndGlyphs">−</text>
<text x="294.5" y="1757.8" font-size="37.5" textLength="40.0" lengthAdjust="spacingAndGlyphs">03</text>
<text x="117.5" y="1651.2" font-size="51.0" textLength="63.5" lengthAdjust="spacingAndGlyphs">2.0</text>
<circle cx="197.8" cy="1638.3" r="2.9"/>
<text x="214.0" y="1651.2" font-size="51.0" textLength="51.5" lengthAdjust="spacingAndGlyphs">10</text>
<text x="266.5" y="1635.0" font-size="37.5" textLength="28.0" lengthAdjust="spacingAndGlyphs">−</text>
<text x="294.5" y="1634.0" font-size="37.5" textLength="40.0" lengthAdjust="spacingAndGlyphs">03</text>
<text x="117.5" y="1527.5" font-size="51.0" textLength="63.5" lengthAdjust="spacingAndGlyphs">2.5</text>
<circle cx="197.8" cy="1514.6" r="2.9"/>
<text x="214.0" y="1527.5" font-size="51.0" textLength="51.5" lengthAdjust="spacingAndGlyphs">10</text>
<text x="266.5" y="1511.3" font-size="37.5" textLength="28.0" lengthAdjust="spacingAndGlyphs">−</text>
<text x="294.5" y="1510.3" font-size="37.5" textLength="40.0" lengthAdjust="spacingAndGlyphs">03</text>
<text x="117.5" y="1403.7" font-size="51.0" textLength="63.5" lengthAdjust="spacingAndGlyphs">3.0</text>
<circle cx="197.8" cy="1390.8" r="2.9"/>
<text x="214.0" y="1403.7" font-size="51.0" textLength="51.5" lengthAdjust="spacingAndGlyphs">10</text>
<text x="266.5" y="1387.5" font-size="37.5" textLength="28.0" lengthAdjust="spacingAndGlyphs">−</text>
<text x="294.5" y="1386.5" font-size="37.5" textLength="40.0" lengthAdjust="spacingAndGlyphs">03</text>
<text x="117.5" y="1280.0" font-size="51.0" textLength="63.5" lengthAdjust="spacingAndGlyphs">3.5</text>
<circle cx="197.8" cy="1267.1" r="2.9"/>
<text x="214.0" y="1280.0" font-size="51.0" textLength="51.5" lengthAdjust="spacingAndGlyphs">10</text>
<text x="266.5" y="1263.8" font-size="37.5" textLength="28.0" lengthAdjust="spacingAndGlyphs">−</text>
<text x="294.5" y="1262.8" font-size="37.5" textLength="40.0" lengthAdjust="spacingAndGlyphs">03</text>
<text x="1034.5" y="2292.2" font-size="59.0" textLength="110.0" lengthAdjust="spacingAndGlyphs">Step</text>
<text x="1160.5" y="2292.2" font-size="61.0" font-style="italic" textLength="17.0" lengthAdjust="spacingAndGlyphs">j</text>
<text x="226.5" y="1229.8" font-size="56.5" textLength="270.5" lengthAdjust="spacingAndGlyphs">Probability</text>
<text x="511.5" y="1229.8" font-size="56.5" textLength="235.5" lengthAdjust="spacingAndGlyphs">evolution</text>
<text x="763.5" y="1229.8" font-size="56.5" textLength="109.5" lengthAdjust="spacingAndGlyphs">with</text>
<text x="886.5" y="1229.8" font-size="56.5" textLength="212.5" lengthAdjust="spacingAndGlyphs">different</text>
<text x="1108.5" y="1229.8" font-size="56.5" textLength="166.5" lengthAdjust="spacingAndGlyphs">spatial</text>
<text x="1287.0" y="1229.8" font-size="56.5" textLength="131.0" lengthAdjust="spacingAndGlyphs">noise</text>
<text x="1430.5" y="1229.8" font-size="56.5" textLength="154.5" lengthAdjust="spacingAndGlyphs">ratios,</text>
<path d="M1603.5 1214.8l6 -3.5l12.5 26l24.5 -57.5h50.5" fill="none" stroke="#000" stroke-width="2.4" stroke-linejoin="miter"/>
<text x="1650.0" y="1229.8" font-size="54.0" font-style="italic" textLength="44.0" lengthAdjust="spacingAndGlyphs">N</text>
<text x="1711.5" y="1238.4" font-size="56.5" textLength="47.0" lengthAdjust="spacingAndGlyphs">=</text>
<text x="1771.5" y="1229.8" font-size="55.0" textLength="86.5" lengthAdjust="spacingAndGlyphs">500</text>
<g transform="translate(76.4 1710.9) rotate(-90)"><text x="-101.0" y="0.0" font-size="56.5" font-style="italic" textLength="35.0" lengthAdjust="spacingAndGlyphs">P</text><text x="-63.0" y="-21.0" font-size="42.5" font-style="italic" textLength="14.0" lengthAdjust="spacingAndGlyphs">r</text><text x="-70.0" y="20.0" font-size="46.0" font-style="italic" textLength="13.0" lengthAdjust="spacingAndGlyphs">j</text><text x="-44.5" y="0.9" font-size="65.8" textLength="19.0" lengthAdjust="spacingAndGlyphs">(</text><text x="-23.0" y="0.0" font-size="56.5" textLength="82.0" lengthAdjust="spacingAndGlyphs">500</text><text x="61.0" y="-21.0" font-size="42.5" textLength="21.0" lengthAdjust="spacingAndGlyphs">2</text><text x="84.0" y="0.9" font-size="65.8" textLength="19.0" lengthAdjust="spacingAndGlyphs">)</text></g>
<rect x="1884.7" y="1277.6" width="434.1" height="433.6" rx="9.5" fill="#fff" stroke="#d4d4d4" stroke-width="3.4"/>
<path d="M1904.9 1320.1h116.2" stroke="#1f77b4" stroke-width="5.2"/>
<text x="2062.0" y="1340.5" font-size="56.5" textLength="175.5" lengthAdjust="spacingAndGlyphs">r=1/20</text>
<path d="M1904.9 1403.5h116.2" stroke="#ff7f0e" stroke-width="5.2"/>
<text x="2062.0" y="1423.9" font-size="56.5" textLength="127.0" lengthAdjust="spacingAndGlyphs">r=0.5</text>
<path d="M1904.9 1486.9h116.2" stroke="#2ca02c" stroke-width="5.2"/>
<text x="2062.0" y="1507.3" font-size="56.5" textLength="148.0" lengthAdjust="spacingAndGlyphs">r=1/3</text>
<path d="M1904.9 1570.3h116.2" stroke="#d62728" stroke-width="5.2"/>
<text x="2062.0" y="1590.7" font-size="56.5" textLength="128.0" lengthAdjust="spacingAndGlyphs">r=0.9</text>
<path d="M1907.5 1653.7h111.0" stroke="#000" stroke-width="5.2" stroke-dasharray="19.3 8.3"/>
<text x="2062.0" y="1674.1" font-size="56.5" textLength="235.0" lengthAdjust="spacingAndGlyphs">Noiseless</text>
</svg></body></html>
